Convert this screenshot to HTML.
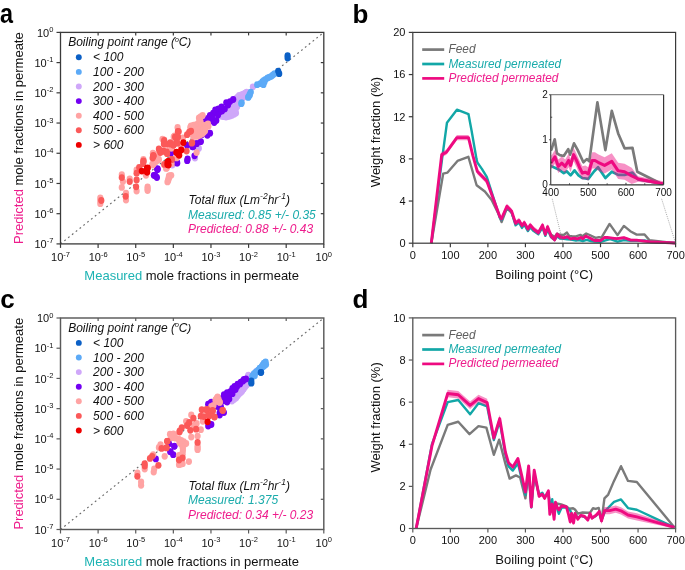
<!DOCTYPE html>
<html><head><meta charset="utf-8"><style>
html,body{margin:0;padding:0;background:#fff;}
svg{display:block;will-change:transform;}
text{font-family:"Liberation Sans", sans-serif;}
</style></head><body>
<svg width="685" height="570" viewBox="0 0 685 570" font-family='"Liberation Sans", sans-serif'>
<rect width="685" height="570" fill="#fff"/>
<text transform="translate(0.1 22.50) scale(0.9 1.03)" font-size="26" font-weight="bold" fill="#000">a</text>
<line x1="60.50" y1="243.90" x2="323.80" y2="32.40" stroke="#6a6a6a" stroke-width="1.15" stroke-dasharray="1.8 3.1" stroke-dashoffset="-4.9"/>
<ellipse cx="172.3" cy="165.1" rx="3.1" ry="3.4" fill="#cfa7f9"/>
<ellipse cx="198.7" cy="148.4" rx="3.1" ry="3.4" fill="#cfa7f9"/>
<ellipse cx="172.4" cy="164.2" rx="3.1" ry="3.4" fill="#cfa7f9"/>
<ellipse cx="195.0" cy="158.0" rx="3.1" ry="3.4" fill="#cfa7f9"/>
<ellipse cx="236.3" cy="98.4" rx="3.1" ry="3.4" fill="#cfa7f9"/>
<ellipse cx="240.5" cy="96.3" rx="3.1" ry="3.4" fill="#cfa7f9"/>
<ellipse cx="244.7" cy="94.2" rx="3.1" ry="3.4" fill="#cfa7f9"/>
<ellipse cx="247.9" cy="93.2" rx="3.1" ry="3.4" fill="#cfa7f9"/>
<ellipse cx="232.1" cy="105.8" rx="3.1" ry="3.4" fill="#cfa7f9"/>
<ellipse cx="234.2" cy="111.1" rx="3.1" ry="3.4" fill="#cfa7f9"/>
<ellipse cx="232.1" cy="115.3" rx="3.1" ry="3.4" fill="#cfa7f9"/>
<ellipse cx="224.7" cy="114.2" rx="3.1" ry="3.4" fill="#cfa7f9"/>
<ellipse cx="221.6" cy="116.3" rx="3.1" ry="3.4" fill="#cfa7f9"/>
<ellipse cx="228.9" cy="108.9" rx="3.1" ry="3.4" fill="#cfa7f9"/>
<ellipse cx="236.3" cy="104.7" rx="3.1" ry="3.4" fill="#cfa7f9"/>
<ellipse cx="198.4" cy="147.9" rx="3.1" ry="3.4" fill="#cfa7f9"/>
<ellipse cx="252.9" cy="86.8" rx="3.1" ry="3.4" fill="#cfa7f9"/>
<ellipse cx="246.6" cy="92.1" rx="3.1" ry="3.4" fill="#cfa7f9"/>
<ellipse cx="243.4" cy="94.2" rx="3.1" ry="3.4" fill="#cfa7f9"/>
<ellipse cx="239.2" cy="95.3" rx="3.1" ry="3.4" fill="#cfa7f9"/>
<ellipse cx="237.1" cy="100.5" rx="3.1" ry="3.4" fill="#cfa7f9"/>
<ellipse cx="237.1" cy="106.8" rx="3.1" ry="3.4" fill="#cfa7f9"/>
<ellipse cx="242.4" cy="97.4" rx="3.1" ry="3.4" fill="#cfa7f9"/>
<ellipse cx="171.9" cy="164.4" rx="3.1" ry="3.4" fill="#cfa7f9"/>
<ellipse cx="230.0" cy="110.0" rx="3.1" ry="3.4" fill="#cfa7f9"/>
<ellipse cx="228.0" cy="113.0" rx="3.1" ry="3.4" fill="#cfa7f9"/>
<ellipse cx="234.0" cy="108.0" rx="3.1" ry="3.4" fill="#cfa7f9"/>
<ellipse cx="238.0" cy="102.0" rx="3.1" ry="3.4" fill="#cfa7f9"/>
<ellipse cx="240.0" cy="100.0" rx="3.1" ry="3.4" fill="#cfa7f9"/>
<ellipse cx="226.0" cy="117.0" rx="3.1" ry="3.4" fill="#cfa7f9"/>
<ellipse cx="236.0" cy="113.0" rx="3.1" ry="3.4" fill="#cfa7f9"/>
<ellipse cx="230.0" cy="116.0" rx="3.1" ry="3.4" fill="#cfa7f9"/>
<ellipse cx="244.0" cy="97.0" rx="3.1" ry="3.4" fill="#cfa7f9"/>
<ellipse cx="233.0" cy="104.0" rx="3.1" ry="3.4" fill="#cfa7f9"/>
<ellipse cx="238.4" cy="97.3" rx="3.1" ry="3.4" fill="#cfa7f9"/>
<ellipse cx="237.8" cy="96.8" rx="3.1" ry="3.4" fill="#cfa7f9"/>
<ellipse cx="237.2" cy="100.2" rx="3.1" ry="3.4" fill="#cfa7f9"/>
<ellipse cx="238.2" cy="99.2" rx="3.1" ry="3.4" fill="#cfa7f9"/>
<ellipse cx="242.6" cy="95.2" rx="3.1" ry="3.4" fill="#cfa7f9"/>
<ellipse cx="241.9" cy="95.2" rx="3.1" ry="3.4" fill="#cfa7f9"/>
<ellipse cx="238.8" cy="98.4" rx="3.1" ry="3.4" fill="#cfa7f9"/>
<ellipse cx="240.2" cy="98.2" rx="3.1" ry="3.4" fill="#cfa7f9"/>
<ellipse cx="242.2" cy="96.7" rx="3.1" ry="3.4" fill="#cfa7f9"/>
<ellipse cx="241.9" cy="94.8" rx="3.1" ry="3.4" fill="#cfa7f9"/>
<ellipse cx="243.6" cy="95.8" rx="3.1" ry="3.4" fill="#cfa7f9"/>
<ellipse cx="245.7" cy="93.7" rx="3.1" ry="3.4" fill="#cfa7f9"/>
<ellipse cx="245.9" cy="95.1" rx="3.1" ry="3.4" fill="#cfa7f9"/>
<ellipse cx="233.1" cy="108.4" rx="3.1" ry="3.4" fill="#cfa7f9"/>
<ellipse cx="230.5" cy="107.3" rx="3.1" ry="3.4" fill="#cfa7f9"/>
<ellipse cx="234.2" cy="105.2" rx="3.1" ry="3.4" fill="#cfa7f9"/>
<ellipse cx="234.6" cy="106.3" rx="3.1" ry="3.4" fill="#cfa7f9"/>
<ellipse cx="231.1" cy="107.9" rx="3.1" ry="3.4" fill="#cfa7f9"/>
<ellipse cx="233.1" cy="113.2" rx="3.1" ry="3.4" fill="#cfa7f9"/>
<ellipse cx="231.6" cy="110.0" rx="3.1" ry="3.4" fill="#cfa7f9"/>
<ellipse cx="235.6" cy="108.9" rx="3.1" ry="3.4" fill="#cfa7f9"/>
<ellipse cx="232.1" cy="110.5" rx="3.1" ry="3.4" fill="#cfa7f9"/>
<ellipse cx="231.1" cy="112.7" rx="3.1" ry="3.4" fill="#cfa7f9"/>
<ellipse cx="230.1" cy="114.2" rx="3.1" ry="3.4" fill="#cfa7f9"/>
<ellipse cx="234.1" cy="114.2" rx="3.1" ry="3.4" fill="#cfa7f9"/>
<ellipse cx="223.1" cy="115.2" rx="3.1" ry="3.4" fill="#cfa7f9"/>
<ellipse cx="226.3" cy="113.6" rx="3.1" ry="3.4" fill="#cfa7f9"/>
<ellipse cx="227.3" cy="115.1" rx="3.1" ry="3.4" fill="#cfa7f9"/>
<ellipse cx="223.8" cy="116.7" rx="3.1" ry="3.4" fill="#cfa7f9"/>
<ellipse cx="228.4" cy="111.0" rx="3.1" ry="3.4" fill="#cfa7f9"/>
<ellipse cx="231.4" cy="108.5" rx="3.1" ry="3.4" fill="#cfa7f9"/>
<ellipse cx="236.7" cy="102.6" rx="3.1" ry="3.4" fill="#cfa7f9"/>
<ellipse cx="235.2" cy="106.3" rx="3.1" ry="3.4" fill="#cfa7f9"/>
<ellipse cx="245.0" cy="93.2" rx="3.1" ry="3.4" fill="#cfa7f9"/>
<ellipse cx="245.3" cy="94.5" rx="3.1" ry="3.4" fill="#cfa7f9"/>
<ellipse cx="241.3" cy="94.8" rx="3.1" ry="3.4" fill="#cfa7f9"/>
<ellipse cx="238.1" cy="97.9" rx="3.1" ry="3.4" fill="#cfa7f9"/>
<ellipse cx="240.8" cy="96.3" rx="3.1" ry="3.4" fill="#cfa7f9"/>
<ellipse cx="239.6" cy="97.7" rx="3.1" ry="3.4" fill="#cfa7f9"/>
<ellipse cx="241.6" cy="96.2" rx="3.1" ry="3.4" fill="#cfa7f9"/>
<ellipse cx="235.1" cy="102.2" rx="3.1" ry="3.4" fill="#cfa7f9"/>
<ellipse cx="237.6" cy="104.4" rx="3.1" ry="3.4" fill="#cfa7f9"/>
<ellipse cx="235.1" cy="105.4" rx="3.1" ry="3.4" fill="#cfa7f9"/>
<ellipse cx="241.2" cy="98.7" rx="3.1" ry="3.4" fill="#cfa7f9"/>
<ellipse cx="229.0" cy="111.5" rx="3.1" ry="3.4" fill="#cfa7f9"/>
<ellipse cx="232.0" cy="109.0" rx="3.1" ry="3.4" fill="#cfa7f9"/>
<ellipse cx="227.0" cy="115.0" rx="3.1" ry="3.4" fill="#cfa7f9"/>
<ellipse cx="229.0" cy="114.5" rx="3.1" ry="3.4" fill="#cfa7f9"/>
<ellipse cx="235.0" cy="110.5" rx="3.1" ry="3.4" fill="#cfa7f9"/>
<ellipse cx="233.5" cy="106.0" rx="3.1" ry="3.4" fill="#cfa7f9"/>
<ellipse cx="235.5" cy="103.0" rx="3.1" ry="3.4" fill="#cfa7f9"/>
<ellipse cx="242.0" cy="98.5" rx="3.1" ry="3.4" fill="#cfa7f9"/>
<ellipse cx="228.0" cy="116.5" rx="3.1" ry="3.4" fill="#cfa7f9"/>
<ellipse cx="241.6" cy="102.6" rx="3.1" ry="3.4" fill="#5caaf7"/>
<ellipse cx="248.4" cy="96.8" rx="3.1" ry="3.4" fill="#5caaf7"/>
<ellipse cx="274.5" cy="73.7" rx="3.1" ry="3.4" fill="#5caaf7"/>
<ellipse cx="271.3" cy="76.3" rx="3.1" ry="3.4" fill="#5caaf7"/>
<ellipse cx="267.6" cy="77.9" rx="3.1" ry="3.4" fill="#5caaf7"/>
<ellipse cx="265.5" cy="79.5" rx="3.1" ry="3.4" fill="#5caaf7"/>
<ellipse cx="262.4" cy="81.6" rx="3.1" ry="3.4" fill="#5caaf7"/>
<ellipse cx="260.3" cy="83.7" rx="3.1" ry="3.4" fill="#5caaf7"/>
<ellipse cx="263.4" cy="84.7" rx="3.1" ry="3.4" fill="#5caaf7"/>
<ellipse cx="257.1" cy="84.7" rx="3.1" ry="3.4" fill="#5caaf7"/>
<ellipse cx="250.8" cy="92.1" rx="3.1" ry="3.4" fill="#5caaf7"/>
<ellipse cx="249.7" cy="95.3" rx="3.1" ry="3.4" fill="#5caaf7"/>
<ellipse cx="248.2" cy="97.4" rx="3.1" ry="3.4" fill="#5caaf7"/>
<ellipse cx="241.3" cy="103.7" rx="3.1" ry="3.4" fill="#5caaf7"/>
<ellipse cx="249.6" cy="94.4" rx="3.1" ry="3.4" fill="#5caaf7"/>
<ellipse cx="272.9" cy="75.0" rx="3.1" ry="3.4" fill="#5caaf7"/>
<ellipse cx="269.5" cy="77.1" rx="3.1" ry="3.4" fill="#5caaf7"/>
<ellipse cx="263.9" cy="80.5" rx="3.1" ry="3.4" fill="#5caaf7"/>
<ellipse cx="264.4" cy="82.1" rx="3.1" ry="3.4" fill="#5caaf7"/>
<ellipse cx="287.6" cy="55.6" rx="3.1" ry="3.4" fill="#0b60c6"/>
<ellipse cx="287.6" cy="58.0" rx="3.1" ry="3.4" fill="#0b60c6"/>
<ellipse cx="278.2" cy="71.1" rx="3.1" ry="3.4" fill="#0b60c6"/>
<ellipse cx="279.2" cy="73.7" rx="3.1" ry="3.4" fill="#0b60c6"/>
<ellipse cx="153.9" cy="175.3" rx="3.1" ry="3.4" fill="#7300f2"/>
<ellipse cx="170.9" cy="153.2" rx="3.1" ry="3.4" fill="#7300f2"/>
<ellipse cx="177.2" cy="163.0" rx="3.1" ry="3.4" fill="#7300f2"/>
<ellipse cx="157.5" cy="168.6" rx="3.1" ry="3.4" fill="#7300f2"/>
<ellipse cx="201.8" cy="134.7" rx="3.1" ry="3.4" fill="#7300f2"/>
<ellipse cx="200.8" cy="141.6" rx="3.1" ry="3.4" fill="#7300f2"/>
<ellipse cx="196.6" cy="143.7" rx="3.1" ry="3.4" fill="#7300f2"/>
<ellipse cx="192.4" cy="146.8" rx="3.1" ry="3.4" fill="#7300f2"/>
<ellipse cx="187.6" cy="158.9" rx="3.1" ry="3.4" fill="#7300f2"/>
<ellipse cx="194.5" cy="155.8" rx="3.1" ry="3.4" fill="#7300f2"/>
<ellipse cx="176.6" cy="162.1" rx="3.1" ry="3.4" fill="#7300f2"/>
<ellipse cx="157.6" cy="169.5" rx="3.1" ry="3.4" fill="#7300f2"/>
<ellipse cx="155.5" cy="175.8" rx="3.1" ry="3.4" fill="#7300f2"/>
<ellipse cx="187.1" cy="145.3" rx="3.1" ry="3.4" fill="#7300f2"/>
<ellipse cx="204.0" cy="122.0" rx="3.1" ry="3.4" fill="#7300f2"/>
<ellipse cx="233.2" cy="99.5" rx="3.1" ry="3.4" fill="#7300f2"/>
<ellipse cx="230.0" cy="101.6" rx="3.1" ry="3.4" fill="#7300f2"/>
<ellipse cx="226.3" cy="102.6" rx="3.1" ry="3.4" fill="#7300f2"/>
<ellipse cx="221.6" cy="106.8" rx="3.1" ry="3.4" fill="#7300f2"/>
<ellipse cx="224.7" cy="108.9" rx="3.1" ry="3.4" fill="#7300f2"/>
<ellipse cx="218.4" cy="108.9" rx="3.1" ry="3.4" fill="#7300f2"/>
<ellipse cx="219.5" cy="112.1" rx="3.1" ry="3.4" fill="#7300f2"/>
<ellipse cx="215.3" cy="110.0" rx="3.1" ry="3.4" fill="#7300f2"/>
<ellipse cx="213.2" cy="113.2" rx="3.1" ry="3.4" fill="#7300f2"/>
<ellipse cx="210.0" cy="115.3" rx="3.1" ry="3.4" fill="#7300f2"/>
<ellipse cx="207.9" cy="118.4" rx="3.1" ry="3.4" fill="#7300f2"/>
<ellipse cx="211.1" cy="120.5" rx="3.1" ry="3.4" fill="#7300f2"/>
<ellipse cx="216.3" cy="120.5" rx="3.1" ry="3.4" fill="#7300f2"/>
<ellipse cx="214.2" cy="122.6" rx="3.1" ry="3.4" fill="#7300f2"/>
<ellipse cx="205.8" cy="121.6" rx="3.1" ry="3.4" fill="#7300f2"/>
<ellipse cx="210.0" cy="133.2" rx="3.1" ry="3.4" fill="#7300f2"/>
<ellipse cx="207.4" cy="135.3" rx="3.1" ry="3.4" fill="#7300f2"/>
<ellipse cx="201.6" cy="134.2" rx="3.1" ry="3.4" fill="#7300f2"/>
<ellipse cx="200.5" cy="141.6" rx="3.1" ry="3.4" fill="#7300f2"/>
<ellipse cx="196.3" cy="143.7" rx="3.1" ry="3.4" fill="#7300f2"/>
<ellipse cx="193.2" cy="146.8" rx="3.1" ry="3.4" fill="#7300f2"/>
<ellipse cx="157.3" cy="169.5" rx="3.1" ry="3.4" fill="#7300f2"/>
<ellipse cx="154.4" cy="175.3" rx="3.1" ry="3.4" fill="#7300f2"/>
<ellipse cx="156.9" cy="177.5" rx="3.1" ry="3.4" fill="#7300f2"/>
<ellipse cx="177.0" cy="162.9" rx="3.1" ry="3.4" fill="#7300f2"/>
<ellipse cx="187.2" cy="160.7" rx="3.1" ry="3.4" fill="#7300f2"/>
<ellipse cx="212.0" cy="117.0" rx="3.1" ry="3.4" fill="#7300f2"/>
<ellipse cx="218.0" cy="115.0" rx="3.1" ry="3.4" fill="#7300f2"/>
<ellipse cx="222.0" cy="111.0" rx="3.1" ry="3.4" fill="#7300f2"/>
<ellipse cx="228.0" cy="105.0" rx="3.1" ry="3.4" fill="#7300f2"/>
<ellipse cx="100.3" cy="203.7" rx="3.1" ry="3.4" fill="#ffa3a3"/>
<ellipse cx="100.3" cy="197.9" rx="3.1" ry="3.4" fill="#ffa3a3"/>
<ellipse cx="121.8" cy="174.7" rx="3.1" ry="3.4" fill="#ffa3a3"/>
<ellipse cx="122.9" cy="181.6" rx="3.1" ry="3.4" fill="#ffa3a3"/>
<ellipse cx="121.8" cy="187.4" rx="3.1" ry="3.4" fill="#ffa3a3"/>
<ellipse cx="129.7" cy="179.0" rx="3.1" ry="3.4" fill="#ffa3a3"/>
<ellipse cx="126.0" cy="193.2" rx="3.1" ry="3.4" fill="#ffa3a3"/>
<ellipse cx="126.0" cy="200.0" rx="3.1" ry="3.4" fill="#ffa3a3"/>
<ellipse cx="136.6" cy="191.0" rx="3.1" ry="3.4" fill="#ffa3a3"/>
<ellipse cx="136.6" cy="170.0" rx="3.1" ry="3.4" fill="#ffa3a3"/>
<ellipse cx="147.6" cy="186.8" rx="3.1" ry="3.4" fill="#ffa3a3"/>
<ellipse cx="147.6" cy="190.5" rx="3.1" ry="3.4" fill="#ffa3a3"/>
<ellipse cx="146.0" cy="175.3" rx="3.1" ry="3.4" fill="#ffa3a3"/>
<ellipse cx="143.4" cy="159.5" rx="3.1" ry="3.4" fill="#ffa3a3"/>
<ellipse cx="153.4" cy="163.7" rx="3.1" ry="3.4" fill="#ffa3a3"/>
<ellipse cx="152.9" cy="153.2" rx="3.1" ry="3.4" fill="#ffa3a3"/>
<ellipse cx="162.5" cy="139.1" rx="3.1" ry="3.4" fill="#ffa3a3"/>
<ellipse cx="173.7" cy="137.0" rx="3.1" ry="3.4" fill="#ffa3a3"/>
<ellipse cx="170.2" cy="148.2" rx="3.1" ry="3.4" fill="#ffa3a3"/>
<ellipse cx="157.5" cy="156.7" rx="3.1" ry="3.4" fill="#ffa3a3"/>
<ellipse cx="154.0" cy="162.3" rx="3.1" ry="3.4" fill="#ffa3a3"/>
<ellipse cx="158.9" cy="159.5" rx="3.1" ry="3.4" fill="#ffa3a3"/>
<ellipse cx="152.6" cy="165.1" rx="3.1" ry="3.4" fill="#ffa3a3"/>
<ellipse cx="171.6" cy="163.7" rx="3.1" ry="3.4" fill="#ffa3a3"/>
<ellipse cx="177.6" cy="127.4" rx="3.1" ry="3.4" fill="#ffa3a3"/>
<ellipse cx="174.5" cy="135.8" rx="3.1" ry="3.4" fill="#ffa3a3"/>
<ellipse cx="190.3" cy="127.4" rx="3.1" ry="3.4" fill="#ffa3a3"/>
<ellipse cx="194.5" cy="130.5" rx="3.1" ry="3.4" fill="#ffa3a3"/>
<ellipse cx="196.6" cy="126.3" rx="3.1" ry="3.4" fill="#ffa3a3"/>
<ellipse cx="199.7" cy="124.2" rx="3.1" ry="3.4" fill="#ffa3a3"/>
<ellipse cx="164.0" cy="140.0" rx="3.1" ry="3.4" fill="#ffa3a3"/>
<ellipse cx="155.5" cy="154.7" rx="3.1" ry="3.4" fill="#ffa3a3"/>
<ellipse cx="157.6" cy="160.0" rx="3.1" ry="3.4" fill="#ffa3a3"/>
<ellipse cx="152.4" cy="164.2" rx="3.1" ry="3.4" fill="#ffa3a3"/>
<ellipse cx="166.1" cy="168.4" rx="3.1" ry="3.4" fill="#ffa3a3"/>
<ellipse cx="169.7" cy="175.8" rx="3.1" ry="3.4" fill="#ffa3a3"/>
<ellipse cx="168.2" cy="162.1" rx="3.1" ry="3.4" fill="#ffa3a3"/>
<ellipse cx="176.6" cy="157.9" rx="3.1" ry="3.4" fill="#ffa3a3"/>
<ellipse cx="180.8" cy="146.3" rx="3.1" ry="3.4" fill="#ffa3a3"/>
<ellipse cx="196.6" cy="152.6" rx="3.1" ry="3.4" fill="#ffa3a3"/>
<ellipse cx="195.5" cy="134.7" rx="3.1" ry="3.4" fill="#ffa3a3"/>
<ellipse cx="182.9" cy="137.9" rx="3.1" ry="3.4" fill="#ffa3a3"/>
<ellipse cx="172.0" cy="148.0" rx="3.1" ry="3.4" fill="#ffa3a3"/>
<ellipse cx="202.6" cy="115.3" rx="3.1" ry="3.4" fill="#ffa3a3"/>
<ellipse cx="200.5" cy="121.6" rx="3.1" ry="3.4" fill="#ffa3a3"/>
<ellipse cx="196.3" cy="124.7" rx="3.1" ry="3.4" fill="#ffa3a3"/>
<ellipse cx="203.7" cy="130.0" rx="3.1" ry="3.4" fill="#ffa3a3"/>
<ellipse cx="208.4" cy="126.3" rx="3.1" ry="3.4" fill="#ffa3a3"/>
<ellipse cx="198.4" cy="131.1" rx="3.1" ry="3.4" fill="#ffa3a3"/>
<ellipse cx="194.2" cy="133.2" rx="3.1" ry="3.4" fill="#ffa3a3"/>
<ellipse cx="193.2" cy="136.3" rx="3.1" ry="3.4" fill="#ffa3a3"/>
<ellipse cx="197.4" cy="136.3" rx="3.1" ry="3.4" fill="#ffa3a3"/>
<ellipse cx="191.0" cy="125.8" rx="3.1" ry="3.4" fill="#ffa3a3"/>
<ellipse cx="169.0" cy="176.0" rx="3.1" ry="3.4" fill="#ffa3a3"/>
<ellipse cx="168.2" cy="180.4" rx="3.1" ry="3.4" fill="#ffa3a3"/>
<ellipse cx="171.2" cy="175.3" rx="3.1" ry="3.4" fill="#ffa3a3"/>
<ellipse cx="167.5" cy="181.9" rx="3.1" ry="3.4" fill="#ffa3a3"/>
<ellipse cx="166.8" cy="168.0" rx="3.1" ry="3.4" fill="#ffa3a3"/>
<ellipse cx="152.9" cy="164.4" rx="3.1" ry="3.4" fill="#ffa3a3"/>
<ellipse cx="205.0" cy="126.0" rx="3.1" ry="3.4" fill="#ffa3a3"/>
<ellipse cx="203.0" cy="130.0" rx="3.1" ry="3.4" fill="#ffa3a3"/>
<ellipse cx="208.0" cy="124.0" rx="3.1" ry="3.4" fill="#ffa3a3"/>
<ellipse cx="199.0" cy="118.0" rx="3.1" ry="3.4" fill="#ffa3a3"/>
<ellipse cx="195.0" cy="128.0" rx="3.1" ry="3.4" fill="#ffa3a3"/>
<ellipse cx="202.0" cy="134.0" rx="3.1" ry="3.4" fill="#ffa3a3"/>
<ellipse cx="205.0" cy="131.0" rx="3.1" ry="3.4" fill="#ffa3a3"/>
<ellipse cx="100.3" cy="200.8" rx="3.1" ry="3.4" fill="#ffa3a3"/>
<ellipse cx="147.6" cy="188.7" rx="3.1" ry="3.4" fill="#ffa3a3"/>
<ellipse cx="155.5" cy="161.8" rx="3.1" ry="3.4" fill="#ffa3a3"/>
<ellipse cx="155.2" cy="154.9" rx="3.1" ry="3.4" fill="#ffa3a3"/>
<ellipse cx="156.4" cy="160.9" rx="3.1" ry="3.4" fill="#ffa3a3"/>
<ellipse cx="155.8" cy="161.2" rx="3.1" ry="3.4" fill="#ffa3a3"/>
<ellipse cx="169.9" cy="162.9" rx="3.1" ry="3.4" fill="#ffa3a3"/>
<ellipse cx="192.4" cy="128.9" rx="3.1" ry="3.4" fill="#ffa3a3"/>
<ellipse cx="192.7" cy="127.7" rx="3.1" ry="3.4" fill="#ffa3a3"/>
<ellipse cx="195.6" cy="128.4" rx="3.1" ry="3.4" fill="#ffa3a3"/>
<ellipse cx="195.0" cy="132.6" rx="3.1" ry="3.4" fill="#ffa3a3"/>
<ellipse cx="196.4" cy="130.8" rx="3.1" ry="3.4" fill="#ffa3a3"/>
<ellipse cx="198.1" cy="125.2" rx="3.1" ry="3.4" fill="#ffa3a3"/>
<ellipse cx="197.5" cy="128.7" rx="3.1" ry="3.4" fill="#ffa3a3"/>
<ellipse cx="193.8" cy="126.0" rx="3.1" ry="3.4" fill="#ffa3a3"/>
<ellipse cx="202.3" cy="125.1" rx="3.1" ry="3.4" fill="#ffa3a3"/>
<ellipse cx="156.6" cy="157.3" rx="3.1" ry="3.4" fill="#ffa3a3"/>
<ellipse cx="168.9" cy="178.1" rx="3.1" ry="3.4" fill="#ffa3a3"/>
<ellipse cx="196.9" cy="132.9" rx="3.1" ry="3.4" fill="#ffa3a3"/>
<ellipse cx="200.8" cy="116.7" rx="3.1" ry="3.4" fill="#ffa3a3"/>
<ellipse cx="198.4" cy="123.2" rx="3.1" ry="3.4" fill="#ffa3a3"/>
<ellipse cx="199.8" cy="119.8" rx="3.1" ry="3.4" fill="#ffa3a3"/>
<ellipse cx="193.7" cy="125.2" rx="3.1" ry="3.4" fill="#ffa3a3"/>
<ellipse cx="195.7" cy="126.3" rx="3.1" ry="3.4" fill="#ffa3a3"/>
<ellipse cx="201.1" cy="130.6" rx="3.1" ry="3.4" fill="#ffa3a3"/>
<ellipse cx="204.3" cy="128.0" rx="3.1" ry="3.4" fill="#ffa3a3"/>
<ellipse cx="202.8" cy="132.0" rx="3.1" ry="3.4" fill="#ffa3a3"/>
<ellipse cx="196.3" cy="132.1" rx="3.1" ry="3.4" fill="#ffa3a3"/>
<ellipse cx="197.9" cy="133.7" rx="3.1" ry="3.4" fill="#ffa3a3"/>
<ellipse cx="200.7" cy="130.6" rx="3.1" ry="3.4" fill="#ffa3a3"/>
<ellipse cx="196.7" cy="129.6" rx="3.1" ry="3.4" fill="#ffa3a3"/>
<ellipse cx="200.2" cy="132.6" rx="3.1" ry="3.4" fill="#ffa3a3"/>
<ellipse cx="195.8" cy="134.8" rx="3.1" ry="3.4" fill="#ffa3a3"/>
<ellipse cx="194.6" cy="130.6" rx="3.1" ry="3.4" fill="#ffa3a3"/>
<ellipse cx="195.3" cy="136.3" rx="3.1" ry="3.4" fill="#ffa3a3"/>
<ellipse cx="199.7" cy="135.2" rx="3.1" ry="3.4" fill="#ffa3a3"/>
<ellipse cx="193.0" cy="126.9" rx="3.1" ry="3.4" fill="#ffa3a3"/>
<ellipse cx="168.6" cy="178.2" rx="3.1" ry="3.4" fill="#ffa3a3"/>
<ellipse cx="204.0" cy="128.0" rx="3.1" ry="3.4" fill="#ffa3a3"/>
<ellipse cx="206.5" cy="125.0" rx="3.1" ry="3.4" fill="#ffa3a3"/>
<ellipse cx="205.0" cy="128.5" rx="3.1" ry="3.4" fill="#ffa3a3"/>
<ellipse cx="202.5" cy="132.0" rx="3.1" ry="3.4" fill="#ffa3a3"/>
<ellipse cx="203.5" cy="132.5" rx="3.1" ry="3.4" fill="#ffa3a3"/>
<ellipse cx="101.3" cy="200.5" rx="3.1" ry="3.4" fill="#fb5959"/>
<ellipse cx="121.8" cy="177.6" rx="3.1" ry="3.4" fill="#fb5959"/>
<ellipse cx="129.7" cy="181.6" rx="3.1" ry="3.4" fill="#fb5959"/>
<ellipse cx="125.7" cy="196.3" rx="3.1" ry="3.4" fill="#fb5959"/>
<ellipse cx="136.6" cy="173.2" rx="3.1" ry="3.4" fill="#fb5959"/>
<ellipse cx="136.6" cy="180.0" rx="3.1" ry="3.4" fill="#fb5959"/>
<ellipse cx="136.1" cy="186.8" rx="3.1" ry="3.4" fill="#fb5959"/>
<ellipse cx="143.4" cy="161.6" rx="3.1" ry="3.4" fill="#fb5959"/>
<ellipse cx="139.2" cy="167.4" rx="3.1" ry="3.4" fill="#fb5959"/>
<ellipse cx="153.4" cy="156.3" rx="3.1" ry="3.4" fill="#fb5959"/>
<ellipse cx="164.2" cy="140.5" rx="3.1" ry="3.4" fill="#fb5959"/>
<ellipse cx="163.9" cy="144.0" rx="3.1" ry="3.4" fill="#fb5959"/>
<ellipse cx="158.9" cy="148.9" rx="3.1" ry="3.4" fill="#fb5959"/>
<ellipse cx="163.2" cy="151.0" rx="3.1" ry="3.4" fill="#fb5959"/>
<ellipse cx="166.7" cy="151.8" rx="3.1" ry="3.4" fill="#fb5959"/>
<ellipse cx="170.2" cy="144.0" rx="3.1" ry="3.4" fill="#fb5959"/>
<ellipse cx="173.7" cy="144.7" rx="3.1" ry="3.4" fill="#fb5959"/>
<ellipse cx="176.5" cy="141.2" rx="3.1" ry="3.4" fill="#fb5959"/>
<ellipse cx="177.9" cy="137.0" rx="3.1" ry="3.4" fill="#fb5959"/>
<ellipse cx="177.9" cy="131.4" rx="3.1" ry="3.4" fill="#fb5959"/>
<ellipse cx="175.1" cy="137.0" rx="3.1" ry="3.4" fill="#fb5959"/>
<ellipse cx="153.3" cy="155.3" rx="3.1" ry="3.4" fill="#fb5959"/>
<ellipse cx="152.6" cy="158.1" rx="3.1" ry="3.4" fill="#fb5959"/>
<ellipse cx="143.5" cy="160.9" rx="3.1" ry="3.4" fill="#fb5959"/>
<ellipse cx="143.2" cy="163.7" rx="3.1" ry="3.4" fill="#fb5959"/>
<ellipse cx="171.6" cy="159.5" rx="3.1" ry="3.4" fill="#fb5959"/>
<ellipse cx="164.2" cy="164.4" rx="3.1" ry="3.4" fill="#fb5959"/>
<ellipse cx="160.4" cy="152.5" rx="3.1" ry="3.4" fill="#fb5959"/>
<ellipse cx="178.7" cy="131.6" rx="3.1" ry="3.4" fill="#fb5959"/>
<ellipse cx="177.6" cy="136.8" rx="3.1" ry="3.4" fill="#fb5959"/>
<ellipse cx="187.1" cy="134.7" rx="3.1" ry="3.4" fill="#fb5959"/>
<ellipse cx="189.2" cy="132.1" rx="3.1" ry="3.4" fill="#fb5959"/>
<ellipse cx="164.0" cy="142.1" rx="3.1" ry="3.4" fill="#fb5959"/>
<ellipse cx="166.1" cy="144.2" rx="3.1" ry="3.4" fill="#fb5959"/>
<ellipse cx="170.3" cy="142.6" rx="3.1" ry="3.4" fill="#fb5959"/>
<ellipse cx="173.4" cy="145.3" rx="3.1" ry="3.4" fill="#fb5959"/>
<ellipse cx="177.6" cy="143.2" rx="3.1" ry="3.4" fill="#fb5959"/>
<ellipse cx="159.7" cy="150.5" rx="3.1" ry="3.4" fill="#fb5959"/>
<ellipse cx="165.0" cy="151.6" rx="3.1" ry="3.4" fill="#fb5959"/>
<ellipse cx="167.1" cy="153.7" rx="3.1" ry="3.4" fill="#fb5959"/>
<ellipse cx="153.4" cy="155.8" rx="3.1" ry="3.4" fill="#fb5959"/>
<ellipse cx="171.8" cy="159.5" rx="3.1" ry="3.4" fill="#fb5959"/>
<ellipse cx="186.6" cy="151.1" rx="3.1" ry="3.4" fill="#fb5959"/>
<ellipse cx="191.8" cy="143.2" rx="3.1" ry="3.4" fill="#fb5959"/>
<ellipse cx="191.0" cy="131.1" rx="3.1" ry="3.4" fill="#fb5959"/>
<ellipse cx="192.1" cy="142.6" rx="3.1" ry="3.4" fill="#fb5959"/>
<ellipse cx="141.8" cy="171.1" rx="3.1" ry="3.4" fill="#ee0000"/>
<ellipse cx="147.1" cy="168.4" rx="3.1" ry="3.4" fill="#ee0000"/>
<ellipse cx="147.1" cy="172.1" rx="3.1" ry="3.4" fill="#ee0000"/>
<ellipse cx="168.1" cy="161.6" rx="3.1" ry="3.4" fill="#ee0000"/>
<ellipse cx="168.4" cy="165.1" rx="3.1" ry="3.4" fill="#ee0000"/>
<ellipse cx="176.5" cy="152.5" rx="3.1" ry="3.4" fill="#ee0000"/>
<ellipse cx="178.6" cy="154.6" rx="3.1" ry="3.4" fill="#ee0000"/>
<ellipse cx="147.7" cy="167.9" rx="3.1" ry="3.4" fill="#ee0000"/>
<ellipse cx="183.4" cy="142.6" rx="3.1" ry="3.4" fill="#ee0000"/>
<ellipse cx="181.3" cy="150.0" rx="3.1" ry="3.4" fill="#ee0000"/>
<ellipse cx="176.6" cy="152.1" rx="3.1" ry="3.4" fill="#ee0000"/>
<ellipse cx="179.2" cy="155.3" rx="3.1" ry="3.4" fill="#ee0000"/>
<ellipse cx="167.6" cy="162.1" rx="3.1" ry="3.4" fill="#ee0000"/>
<ellipse cx="168.2" cy="164.7" rx="3.1" ry="3.4" fill="#ee0000"/>
<ellipse cx="147.1" cy="168.4" rx="3.1" ry="3.4" fill="#ee0000"/>
<ellipse cx="147.1" cy="172.1" rx="3.1" ry="3.4" fill="#ee0000"/>
<ellipse cx="167.5" cy="164.4" rx="3.1" ry="3.4" fill="#ee0000"/>
<ellipse cx="168.2" cy="161.5" rx="3.1" ry="3.4" fill="#ee0000"/>
<rect x="60.5" y="32.4" width="263.30" height="211.50" fill="none" stroke="#3a3a3a" stroke-width="1.3"/>
<line x1="60.50" y1="243.90" x2="60.50" y2="247.90" stroke="#3a3a3a" stroke-width="1.2" />
<line x1="56.50" y1="32.40" x2="60.50" y2="32.40" stroke="#3a3a3a" stroke-width="1.2" />
<line x1="98.11" y1="243.90" x2="98.11" y2="247.90" stroke="#3a3a3a" stroke-width="1.2" />
<line x1="98.11" y1="32.40" x2="98.11" y2="35.40" stroke="#3a3a3a" stroke-width="1.2" />
<line x1="56.50" y1="62.61" x2="60.50" y2="62.61" stroke="#3a3a3a" stroke-width="1.2" />
<line x1="320.80" y1="62.61" x2="323.80" y2="62.61" stroke="#3a3a3a" stroke-width="1.2" />
<line x1="135.73" y1="243.90" x2="135.73" y2="247.90" stroke="#3a3a3a" stroke-width="1.2" />
<line x1="135.73" y1="32.40" x2="135.73" y2="35.40" stroke="#3a3a3a" stroke-width="1.2" />
<line x1="56.50" y1="92.83" x2="60.50" y2="92.83" stroke="#3a3a3a" stroke-width="1.2" />
<line x1="320.80" y1="92.83" x2="323.80" y2="92.83" stroke="#3a3a3a" stroke-width="1.2" />
<line x1="173.34" y1="243.90" x2="173.34" y2="247.90" stroke="#3a3a3a" stroke-width="1.2" />
<line x1="173.34" y1="32.40" x2="173.34" y2="35.40" stroke="#3a3a3a" stroke-width="1.2" />
<line x1="56.50" y1="123.04" x2="60.50" y2="123.04" stroke="#3a3a3a" stroke-width="1.2" />
<line x1="320.80" y1="123.04" x2="323.80" y2="123.04" stroke="#3a3a3a" stroke-width="1.2" />
<line x1="210.96" y1="243.90" x2="210.96" y2="247.90" stroke="#3a3a3a" stroke-width="1.2" />
<line x1="210.96" y1="32.40" x2="210.96" y2="35.40" stroke="#3a3a3a" stroke-width="1.2" />
<line x1="56.50" y1="153.26" x2="60.50" y2="153.26" stroke="#3a3a3a" stroke-width="1.2" />
<line x1="320.80" y1="153.26" x2="323.80" y2="153.26" stroke="#3a3a3a" stroke-width="1.2" />
<line x1="248.57" y1="243.90" x2="248.57" y2="247.90" stroke="#3a3a3a" stroke-width="1.2" />
<line x1="248.57" y1="32.40" x2="248.57" y2="35.40" stroke="#3a3a3a" stroke-width="1.2" />
<line x1="56.50" y1="183.47" x2="60.50" y2="183.47" stroke="#3a3a3a" stroke-width="1.2" />
<line x1="320.80" y1="183.47" x2="323.80" y2="183.47" stroke="#3a3a3a" stroke-width="1.2" />
<line x1="286.19" y1="243.90" x2="286.19" y2="247.90" stroke="#3a3a3a" stroke-width="1.2" />
<line x1="286.19" y1="32.40" x2="286.19" y2="35.40" stroke="#3a3a3a" stroke-width="1.2" />
<line x1="56.50" y1="213.69" x2="60.50" y2="213.69" stroke="#3a3a3a" stroke-width="1.2" />
<line x1="320.80" y1="213.69" x2="323.80" y2="213.69" stroke="#3a3a3a" stroke-width="1.2" />
<line x1="323.80" y1="243.90" x2="323.80" y2="247.90" stroke="#3a3a3a" stroke-width="1.2" />
<line x1="56.50" y1="243.90" x2="60.50" y2="243.90" stroke="#3a3a3a" stroke-width="1.2" />
<text x="60.50" y="261.40" font-size="11" text-anchor="middle" fill="#111" >10<tspan dy="-4.7" font-size="7.5">-7</tspan></text>
<text x="98.11" y="261.40" font-size="11" text-anchor="middle" fill="#111" >10<tspan dy="-4.7" font-size="7.5">-6</tspan></text>
<text x="135.73" y="261.40" font-size="11" text-anchor="middle" fill="#111" >10<tspan dy="-4.7" font-size="7.5">-5</tspan></text>
<text x="173.34" y="261.40" font-size="11" text-anchor="middle" fill="#111" >10<tspan dy="-4.7" font-size="7.5">-4</tspan></text>
<text x="210.96" y="261.40" font-size="11" text-anchor="middle" fill="#111" >10<tspan dy="-4.7" font-size="7.5">-3</tspan></text>
<text x="248.57" y="261.40" font-size="11" text-anchor="middle" fill="#111" >10<tspan dy="-4.7" font-size="7.5">-2</tspan></text>
<text x="286.19" y="261.40" font-size="11" text-anchor="middle" fill="#111" >10<tspan dy="-4.7" font-size="7.5">-1</tspan></text>
<text x="323.80" y="261.40" font-size="11" text-anchor="middle" fill="#111" >10<tspan dy="-4.7" font-size="7.5">0</tspan></text>
<text x="53.40" y="36.60" font-size="11" text-anchor="end" fill="#111" >10<tspan dy="-4.7" font-size="7.5">0</tspan></text>
<text x="53.40" y="66.81" font-size="11" text-anchor="end" fill="#111" >10<tspan dy="-4.7" font-size="7.5">-1</tspan></text>
<text x="53.40" y="97.03" font-size="11" text-anchor="end" fill="#111" >10<tspan dy="-4.7" font-size="7.5">-2</tspan></text>
<text x="53.40" y="127.24" font-size="11" text-anchor="end" fill="#111" >10<tspan dy="-4.7" font-size="7.5">-3</tspan></text>
<text x="53.40" y="157.46" font-size="11" text-anchor="end" fill="#111" >10<tspan dy="-4.7" font-size="7.5">-4</tspan></text>
<text x="53.40" y="187.67" font-size="11" text-anchor="end" fill="#111" >10<tspan dy="-4.7" font-size="7.5">-5</tspan></text>
<text x="53.40" y="217.89" font-size="11" text-anchor="end" fill="#111" >10<tspan dy="-4.7" font-size="7.5">-6</tspan></text>
<text x="53.40" y="248.10" font-size="11" text-anchor="end" fill="#111" >10<tspan dy="-4.7" font-size="7.5">-7</tspan></text>
<text x="191.65" y="279.90" font-size="13" text-anchor="middle" fill="#111"><tspan fill="#1db3b3">Measured</tspan> mole fractions in permeate</text>
<text transform="translate(22.8 138.15) rotate(-90)" x="0" y="0" font-size="13" text-anchor="middle" fill="#111"><tspan fill="#ee1c8c">Predicted</tspan> mole fractions in permeate</text>
<text x="68.20" y="46.20" font-size="12" text-anchor="start" fill="#111" font-style="italic" >Boiling point range (<tspan dy="-4.6" font-size="7">o</tspan><tspan dy="4.6">C</tspan><tspan font-size="11">)</tspan></text>
<circle cx="78.8" cy="57.30" r="2.95" fill="#0b60c6"/>
<text x="93.10" y="61.30" font-size="12" text-anchor="start" fill="#111" font-style="italic" >&lt; 100</text>
<circle cx="78.8" cy="71.90" r="2.95" fill="#5caaf7"/>
<text x="93.10" y="75.90" font-size="12" text-anchor="start" fill="#111" font-style="italic" >100 - 200</text>
<circle cx="78.8" cy="86.50" r="2.95" fill="#cfa7f9"/>
<text x="93.10" y="90.50" font-size="12" text-anchor="start" fill="#111" font-style="italic" >200 - 300</text>
<circle cx="78.8" cy="101.10" r="2.95" fill="#7300f2"/>
<text x="93.10" y="105.10" font-size="12" text-anchor="start" fill="#111" font-style="italic" >300 - 400</text>
<circle cx="78.8" cy="115.70" r="2.95" fill="#ffa3a3"/>
<text x="93.10" y="119.70" font-size="12" text-anchor="start" fill="#111" font-style="italic" >400 - 500</text>
<circle cx="78.8" cy="130.30" r="2.95" fill="#fb5959"/>
<text x="93.10" y="134.30" font-size="12" text-anchor="start" fill="#111" font-style="italic" >500 - 600</text>
<circle cx="78.8" cy="144.90" r="2.95" fill="#ee0000"/>
<text x="93.10" y="148.90" font-size="12" text-anchor="start" fill="#111" font-style="italic" >&gt; 600</text>
<text x="188.50" y="204.20" font-size="12" text-anchor="start" fill="#111" font-style="italic" >Total flux (Lm<tspan dy="-5" font-size="8.5">-2</tspan><tspan dy="5">hr</tspan><tspan dy="-5" font-size="8.5">-1</tspan><tspan dy="5">)</tspan></text>
<text x="188.00" y="218.80" font-size="12" text-anchor="start" fill="#1aabab" font-style="italic" >Measured: 0.85 +/- 0.35</text>
<text x="188.00" y="233.30" font-size="12" text-anchor="start" fill="#ee1c8c" font-style="italic" >Predicted: 0.88 +/- 0.43</text>
<text x="0.30" y="308.10" font-size="26" text-anchor="start" fill="#000" font-weight="bold" >c</text>
<line x1="60.50" y1="529.50" x2="323.80" y2="318.00" stroke="#6a6a6a" stroke-width="1.15" stroke-dasharray="1.8 3.1" stroke-dashoffset="-4.9"/>
<ellipse cx="248.2" cy="375.8" rx="3.1" ry="3.4" fill="#cfa7f9"/>
<ellipse cx="249.2" cy="380.0" rx="3.1" ry="3.4" fill="#cfa7f9"/>
<ellipse cx="242.9" cy="387.4" rx="3.1" ry="3.4" fill="#cfa7f9"/>
<ellipse cx="241.8" cy="391.6" rx="3.1" ry="3.4" fill="#cfa7f9"/>
<ellipse cx="236.6" cy="394.7" rx="3.1" ry="3.4" fill="#cfa7f9"/>
<ellipse cx="234.5" cy="396.8" rx="3.1" ry="3.4" fill="#cfa7f9"/>
<ellipse cx="256.6" cy="371.6" rx="3.1" ry="3.4" fill="#cfa7f9"/>
<ellipse cx="256.1" cy="371.6" rx="3.1" ry="3.4" fill="#cfa7f9"/>
<ellipse cx="248.4" cy="375.1" rx="3.1" ry="3.4" fill="#cfa7f9"/>
<ellipse cx="247.7" cy="377.9" rx="3.1" ry="3.4" fill="#cfa7f9"/>
<ellipse cx="239.0" cy="394.0" rx="3.1" ry="3.4" fill="#cfa7f9"/>
<ellipse cx="242.0" cy="390.5" rx="3.1" ry="3.4" fill="#cfa7f9"/>
<ellipse cx="245.0" cy="387.0" rx="3.1" ry="3.4" fill="#cfa7f9"/>
<ellipse cx="248.0" cy="383.5" rx="3.1" ry="3.4" fill="#cfa7f9"/>
<ellipse cx="250.5" cy="379.5" rx="3.1" ry="3.4" fill="#cfa7f9"/>
<ellipse cx="236.0" cy="398.0" rx="3.1" ry="3.4" fill="#cfa7f9"/>
<ellipse cx="232.0" cy="401.0" rx="3.1" ry="3.4" fill="#cfa7f9"/>
<ellipse cx="248.7" cy="377.9" rx="3.1" ry="3.4" fill="#cfa7f9"/>
<ellipse cx="249.3" cy="377.6" rx="3.1" ry="3.4" fill="#cfa7f9"/>
<ellipse cx="248.8" cy="377.6" rx="3.1" ry="3.4" fill="#cfa7f9"/>
<ellipse cx="248.6" cy="381.8" rx="3.1" ry="3.4" fill="#cfa7f9"/>
<ellipse cx="242.4" cy="389.5" rx="3.1" ry="3.4" fill="#cfa7f9"/>
<ellipse cx="240.4" cy="392.8" rx="3.1" ry="3.4" fill="#cfa7f9"/>
<ellipse cx="243.4" cy="389.3" rx="3.1" ry="3.4" fill="#cfa7f9"/>
<ellipse cx="236.8" cy="395.4" rx="3.1" ry="3.4" fill="#cfa7f9"/>
<ellipse cx="233.2" cy="398.9" rx="3.1" ry="3.4" fill="#cfa7f9"/>
<ellipse cx="249.4" cy="377.3" rx="3.1" ry="3.4" fill="#cfa7f9"/>
<ellipse cx="247.8" cy="380.7" rx="3.1" ry="3.4" fill="#cfa7f9"/>
<ellipse cx="240.5" cy="392.2" rx="3.1" ry="3.4" fill="#cfa7f9"/>
<ellipse cx="237.5" cy="396.0" rx="3.1" ry="3.4" fill="#cfa7f9"/>
<ellipse cx="243.5" cy="388.8" rx="3.1" ry="3.4" fill="#cfa7f9"/>
<ellipse cx="246.5" cy="385.2" rx="3.1" ry="3.4" fill="#cfa7f9"/>
<ellipse cx="249.2" cy="381.5" rx="3.1" ry="3.4" fill="#cfa7f9"/>
<ellipse cx="234.0" cy="399.5" rx="3.1" ry="3.4" fill="#cfa7f9"/>
<ellipse cx="261.8" cy="366.3" rx="3.1" ry="3.4" fill="#5caaf7"/>
<ellipse cx="259.7" cy="368.4" rx="3.1" ry="3.4" fill="#5caaf7"/>
<ellipse cx="254.5" cy="373.7" rx="3.1" ry="3.4" fill="#5caaf7"/>
<ellipse cx="252.4" cy="375.8" rx="3.1" ry="3.4" fill="#5caaf7"/>
<ellipse cx="263.9" cy="363.2" rx="3.1" ry="3.4" fill="#5caaf7"/>
<ellipse cx="265.6" cy="361.8" rx="3.1" ry="3.4" fill="#5caaf7"/>
<ellipse cx="266.0" cy="364.6" rx="3.1" ry="3.4" fill="#5caaf7"/>
<ellipse cx="263.9" cy="366.0" rx="3.1" ry="3.4" fill="#5caaf7"/>
<ellipse cx="261.8" cy="367.4" rx="3.1" ry="3.4" fill="#5caaf7"/>
<ellipse cx="259.6" cy="368.8" rx="3.1" ry="3.4" fill="#5caaf7"/>
<ellipse cx="258.2" cy="370.2" rx="3.1" ry="3.4" fill="#5caaf7"/>
<ellipse cx="254.0" cy="373.7" rx="3.1" ry="3.4" fill="#5caaf7"/>
<ellipse cx="252.6" cy="376.5" rx="3.1" ry="3.4" fill="#5caaf7"/>
<ellipse cx="254.7" cy="375.8" rx="3.1" ry="3.4" fill="#5caaf7"/>
<ellipse cx="262.9" cy="364.8" rx="3.1" ry="3.4" fill="#5caaf7"/>
<ellipse cx="263.9" cy="365.5" rx="3.1" ry="3.4" fill="#5caaf7"/>
<ellipse cx="260.0" cy="368.2" rx="3.1" ry="3.4" fill="#5caaf7"/>
<ellipse cx="261.8" cy="367.2" rx="3.1" ry="3.4" fill="#5caaf7"/>
<ellipse cx="256.4" cy="371.9" rx="3.1" ry="3.4" fill="#5caaf7"/>
<ellipse cx="262.9" cy="365.3" rx="3.1" ry="3.4" fill="#5caaf7"/>
<ellipse cx="264.8" cy="363.9" rx="3.1" ry="3.4" fill="#5caaf7"/>
<ellipse cx="263.9" cy="366.0" rx="3.1" ry="3.4" fill="#5caaf7"/>
<ellipse cx="261.8" cy="367.4" rx="3.1" ry="3.4" fill="#5caaf7"/>
<ellipse cx="260.0" cy="368.8" rx="3.1" ry="3.4" fill="#5caaf7"/>
<ellipse cx="256.1" cy="371.9" rx="3.1" ry="3.4" fill="#5caaf7"/>
<ellipse cx="251.3" cy="383.2" rx="3.1" ry="3.4" fill="#0b60c6"/>
<ellipse cx="251.3" cy="381.0" rx="3.1" ry="3.4" fill="#0b60c6"/>
<ellipse cx="260.8" cy="372.6" rx="3.1" ry="3.4" fill="#0b60c6"/>
<ellipse cx="261.1" cy="372.3" rx="3.1" ry="3.4" fill="#0b60c6"/>
<ellipse cx="174.2" cy="446.3" rx="3.1" ry="3.4" fill="#7300f2"/>
<ellipse cx="170.5" cy="451.6" rx="3.1" ry="3.4" fill="#7300f2"/>
<ellipse cx="173.2" cy="454.7" rx="3.1" ry="3.4" fill="#7300f2"/>
<ellipse cx="155.8" cy="458.9" rx="3.1" ry="3.4" fill="#7300f2"/>
<ellipse cx="169.0" cy="443.7" rx="3.1" ry="3.4" fill="#7300f2"/>
<ellipse cx="174.5" cy="446.1" rx="3.1" ry="3.4" fill="#7300f2"/>
<ellipse cx="170.3" cy="451.8" rx="3.1" ry="3.4" fill="#7300f2"/>
<ellipse cx="208.2" cy="426.1" rx="3.1" ry="3.4" fill="#7300f2"/>
<ellipse cx="211.3" cy="424.5" rx="3.1" ry="3.4" fill="#7300f2"/>
<ellipse cx="219.7" cy="415.0" rx="3.1" ry="3.4" fill="#7300f2"/>
<ellipse cx="220.8" cy="408.7" rx="3.1" ry="3.4" fill="#7300f2"/>
<ellipse cx="222.9" cy="398.2" rx="3.1" ry="3.4" fill="#7300f2"/>
<ellipse cx="210.3" cy="403.4" rx="3.1" ry="3.4" fill="#7300f2"/>
<ellipse cx="217.6" cy="406.6" rx="3.1" ry="3.4" fill="#7300f2"/>
<ellipse cx="243.9" cy="379.5" rx="3.1" ry="3.4" fill="#7300f2"/>
<ellipse cx="240.8" cy="382.1" rx="3.1" ry="3.4" fill="#7300f2"/>
<ellipse cx="237.6" cy="384.2" rx="3.1" ry="3.4" fill="#7300f2"/>
<ellipse cx="234.5" cy="386.3" rx="3.1" ry="3.4" fill="#7300f2"/>
<ellipse cx="232.4" cy="388.4" rx="3.1" ry="3.4" fill="#7300f2"/>
<ellipse cx="235.5" cy="389.5" rx="3.1" ry="3.4" fill="#7300f2"/>
<ellipse cx="230.3" cy="391.6" rx="3.1" ry="3.4" fill="#7300f2"/>
<ellipse cx="227.1" cy="392.6" rx="3.1" ry="3.4" fill="#7300f2"/>
<ellipse cx="224.0" cy="394.7" rx="3.1" ry="3.4" fill="#7300f2"/>
<ellipse cx="226.1" cy="396.8" rx="3.1" ry="3.4" fill="#7300f2"/>
<ellipse cx="229.2" cy="398.9" rx="3.1" ry="3.4" fill="#7300f2"/>
<ellipse cx="227.1" cy="402.1" rx="3.1" ry="3.4" fill="#7300f2"/>
<ellipse cx="221.8" cy="398.9" rx="3.1" ry="3.4" fill="#7300f2"/>
<ellipse cx="220.8" cy="406.3" rx="3.1" ry="3.4" fill="#7300f2"/>
<ellipse cx="219.7" cy="412.6" rx="3.1" ry="3.4" fill="#7300f2"/>
<ellipse cx="223.9" cy="412.6" rx="3.1" ry="3.4" fill="#7300f2"/>
<ellipse cx="211.3" cy="402.1" rx="3.1" ry="3.4" fill="#7300f2"/>
<ellipse cx="208.2" cy="404.2" rx="3.1" ry="3.4" fill="#7300f2"/>
<ellipse cx="232.4" cy="393.7" rx="3.1" ry="3.4" fill="#7300f2"/>
<ellipse cx="225.0" cy="398.0" rx="3.1" ry="3.4" fill="#7300f2"/>
<ellipse cx="228.0" cy="395.0" rx="3.1" ry="3.4" fill="#7300f2"/>
<ellipse cx="231.0" cy="392.0" rx="3.1" ry="3.4" fill="#7300f2"/>
<ellipse cx="234.0" cy="389.0" rx="3.1" ry="3.4" fill="#7300f2"/>
<ellipse cx="237.0" cy="386.5" rx="3.1" ry="3.4" fill="#7300f2"/>
<ellipse cx="240.0" cy="384.0" rx="3.1" ry="3.4" fill="#7300f2"/>
<ellipse cx="243.0" cy="381.0" rx="3.1" ry="3.4" fill="#7300f2"/>
<ellipse cx="222.0" cy="401.0" rx="3.1" ry="3.4" fill="#7300f2"/>
<ellipse cx="226.0" cy="401.0" rx="3.1" ry="3.4" fill="#7300f2"/>
<ellipse cx="218.0" cy="404.0" rx="3.1" ry="3.4" fill="#7300f2"/>
<ellipse cx="215.0" cy="402.0" rx="3.1" ry="3.4" fill="#7300f2"/>
<ellipse cx="246.0" cy="379.0" rx="3.1" ry="3.4" fill="#7300f2"/>
<ellipse cx="141.1" cy="485.3" rx="3.1" ry="3.4" fill="#ffa3a3"/>
<ellipse cx="144.7" cy="469.0" rx="3.1" ry="3.4" fill="#ffa3a3"/>
<ellipse cx="154.2" cy="469.0" rx="3.1" ry="3.4" fill="#ffa3a3"/>
<ellipse cx="153.7" cy="472.1" rx="3.1" ry="3.4" fill="#ffa3a3"/>
<ellipse cx="164.7" cy="456.3" rx="3.1" ry="3.4" fill="#ffa3a3"/>
<ellipse cx="158.9" cy="447.4" rx="3.1" ry="3.4" fill="#ffa3a3"/>
<ellipse cx="153.2" cy="454.7" rx="3.1" ry="3.4" fill="#ffa3a3"/>
<ellipse cx="172.1" cy="437.4" rx="3.1" ry="3.4" fill="#ffa3a3"/>
<ellipse cx="179.5" cy="442.6" rx="3.1" ry="3.4" fill="#ffa3a3"/>
<ellipse cx="182.6" cy="445.8" rx="3.1" ry="3.4" fill="#ffa3a3"/>
<ellipse cx="183.7" cy="441.6" rx="3.1" ry="3.4" fill="#ffa3a3"/>
<ellipse cx="179.0" cy="464.7" rx="3.1" ry="3.4" fill="#ffa3a3"/>
<ellipse cx="182.6" cy="463.7" rx="3.1" ry="3.4" fill="#ffa3a3"/>
<ellipse cx="179.0" cy="455.3" rx="3.1" ry="3.4" fill="#ffa3a3"/>
<ellipse cx="182.6" cy="454.2" rx="3.1" ry="3.4" fill="#ffa3a3"/>
<ellipse cx="188.9" cy="461.6" rx="3.1" ry="3.4" fill="#ffa3a3"/>
<ellipse cx="170.0" cy="434.2" rx="3.1" ry="3.4" fill="#ffa3a3"/>
<ellipse cx="160.5" cy="444.7" rx="3.1" ry="3.4" fill="#ffa3a3"/>
<ellipse cx="137.4" cy="473.0" rx="3.1" ry="3.4" fill="#ffa3a3"/>
<ellipse cx="141.1" cy="482.0" rx="3.1" ry="3.4" fill="#ffa3a3"/>
<ellipse cx="171.3" cy="437.1" rx="3.1" ry="3.4" fill="#ffa3a3"/>
<ellipse cx="175.5" cy="438.2" rx="3.1" ry="3.4" fill="#ffa3a3"/>
<ellipse cx="182.9" cy="443.4" rx="3.1" ry="3.4" fill="#ffa3a3"/>
<ellipse cx="186.1" cy="443.4" rx="3.1" ry="3.4" fill="#ffa3a3"/>
<ellipse cx="191.3" cy="437.1" rx="3.1" ry="3.4" fill="#ffa3a3"/>
<ellipse cx="197.6" cy="436.1" rx="3.1" ry="3.4" fill="#ffa3a3"/>
<ellipse cx="200.8" cy="429.7" rx="3.1" ry="3.4" fill="#ffa3a3"/>
<ellipse cx="196.6" cy="423.4" rx="3.1" ry="3.4" fill="#ffa3a3"/>
<ellipse cx="191.3" cy="415.0" rx="3.1" ry="3.4" fill="#ffa3a3"/>
<ellipse cx="216.6" cy="400.3" rx="3.1" ry="3.4" fill="#ffa3a3"/>
<ellipse cx="219.7" cy="402.4" rx="3.1" ry="3.4" fill="#ffa3a3"/>
<ellipse cx="213.4" cy="405.5" rx="3.1" ry="3.4" fill="#ffa3a3"/>
<ellipse cx="210.3" cy="413.9" rx="3.1" ry="3.4" fill="#ffa3a3"/>
<ellipse cx="197.6" cy="449.7" rx="3.1" ry="3.4" fill="#ffa3a3"/>
<ellipse cx="182.9" cy="450.8" rx="3.1" ry="3.4" fill="#ffa3a3"/>
<ellipse cx="178.7" cy="439.2" rx="3.1" ry="3.4" fill="#ffa3a3"/>
<ellipse cx="173.4" cy="434.0" rx="3.1" ry="3.4" fill="#ffa3a3"/>
<ellipse cx="202.9" cy="421.3" rx="3.1" ry="3.4" fill="#ffa3a3"/>
<ellipse cx="186.1" cy="421.3" rx="3.1" ry="3.4" fill="#ffa3a3"/>
<ellipse cx="193.4" cy="426.6" rx="3.1" ry="3.4" fill="#ffa3a3"/>
<ellipse cx="197.6" cy="446.0" rx="3.1" ry="3.4" fill="#ffa3a3"/>
<ellipse cx="217.6" cy="396.8" rx="3.1" ry="3.4" fill="#ffa3a3"/>
<ellipse cx="219.7" cy="402.1" rx="3.1" ry="3.4" fill="#ffa3a3"/>
<ellipse cx="215.5" cy="400.0" rx="3.1" ry="3.4" fill="#ffa3a3"/>
<ellipse cx="211.3" cy="406.3" rx="3.1" ry="3.4" fill="#ffa3a3"/>
<ellipse cx="171.1" cy="435.8" rx="3.1" ry="3.4" fill="#ffa3a3"/>
<ellipse cx="172.8" cy="435.7" rx="3.1" ry="3.4" fill="#ffa3a3"/>
<ellipse cx="181.1" cy="444.2" rx="3.1" ry="3.4" fill="#ffa3a3"/>
<ellipse cx="181.6" cy="442.1" rx="3.1" ry="3.4" fill="#ffa3a3"/>
<ellipse cx="183.1" cy="443.7" rx="3.1" ry="3.4" fill="#ffa3a3"/>
<ellipse cx="184.3" cy="444.6" rx="3.1" ry="3.4" fill="#ffa3a3"/>
<ellipse cx="182.8" cy="448.3" rx="3.1" ry="3.4" fill="#ffa3a3"/>
<ellipse cx="181.2" cy="440.4" rx="3.1" ry="3.4" fill="#ffa3a3"/>
<ellipse cx="180.8" cy="464.2" rx="3.1" ry="3.4" fill="#ffa3a3"/>
<ellipse cx="180.8" cy="454.8" rx="3.1" ry="3.4" fill="#ffa3a3"/>
<ellipse cx="173.4" cy="437.6" rx="3.1" ry="3.4" fill="#ffa3a3"/>
<ellipse cx="172.4" cy="435.6" rx="3.1" ry="3.4" fill="#ffa3a3"/>
<ellipse cx="174.4" cy="436.1" rx="3.1" ry="3.4" fill="#ffa3a3"/>
<ellipse cx="195.0" cy="425.0" rx="3.1" ry="3.4" fill="#ffa3a3"/>
<ellipse cx="218.1" cy="401.4" rx="3.1" ry="3.4" fill="#ffa3a3"/>
<ellipse cx="217.1" cy="398.6" rx="3.1" ry="3.4" fill="#ffa3a3"/>
<ellipse cx="218.1" cy="401.2" rx="3.1" ry="3.4" fill="#ffa3a3"/>
<ellipse cx="217.6" cy="401.2" rx="3.1" ry="3.4" fill="#ffa3a3"/>
<ellipse cx="197.6" cy="447.9" rx="3.1" ry="3.4" fill="#ffa3a3"/>
<ellipse cx="218.6" cy="399.5" rx="3.1" ry="3.4" fill="#ffa3a3"/>
<ellipse cx="216.6" cy="398.4" rx="3.1" ry="3.4" fill="#ffa3a3"/>
<ellipse cx="217.6" cy="401.1" rx="3.1" ry="3.4" fill="#ffa3a3"/>
<ellipse cx="137.4" cy="476.3" rx="3.1" ry="3.4" fill="#fb5959"/>
<ellipse cx="144.7" cy="463.7" rx="3.1" ry="3.4" fill="#fb5959"/>
<ellipse cx="144.7" cy="466.0" rx="3.1" ry="3.4" fill="#fb5959"/>
<ellipse cx="150.0" cy="458.4" rx="3.1" ry="3.4" fill="#fb5959"/>
<ellipse cx="152.1" cy="456.3" rx="3.1" ry="3.4" fill="#fb5959"/>
<ellipse cx="158.4" cy="465.3" rx="3.1" ry="3.4" fill="#fb5959"/>
<ellipse cx="161.6" cy="448.4" rx="3.1" ry="3.4" fill="#fb5959"/>
<ellipse cx="166.3" cy="447.9" rx="3.1" ry="3.4" fill="#fb5959"/>
<ellipse cx="167.4" cy="441.1" rx="3.1" ry="3.4" fill="#fb5959"/>
<ellipse cx="179.0" cy="460.0" rx="3.1" ry="3.4" fill="#fb5959"/>
<ellipse cx="182.6" cy="457.9" rx="3.1" ry="3.4" fill="#fb5959"/>
<ellipse cx="179.5" cy="432.1" rx="3.1" ry="3.4" fill="#fb5959"/>
<ellipse cx="167.1" cy="441.3" rx="3.1" ry="3.4" fill="#fb5959"/>
<ellipse cx="166.6" cy="447.6" rx="3.1" ry="3.4" fill="#fb5959"/>
<ellipse cx="179.7" cy="430.8" rx="3.1" ry="3.4" fill="#fb5959"/>
<ellipse cx="181.8" cy="427.6" rx="3.1" ry="3.4" fill="#fb5959"/>
<ellipse cx="187.1" cy="425.5" rx="3.1" ry="3.4" fill="#fb5959"/>
<ellipse cx="189.2" cy="422.4" rx="3.1" ry="3.4" fill="#fb5959"/>
<ellipse cx="193.4" cy="418.2" rx="3.1" ry="3.4" fill="#fb5959"/>
<ellipse cx="190.3" cy="430.3" rx="3.1" ry="3.4" fill="#fb5959"/>
<ellipse cx="196.1" cy="429.2" rx="3.1" ry="3.4" fill="#fb5959"/>
<ellipse cx="201.8" cy="409.7" rx="3.1" ry="3.4" fill="#fb5959"/>
<ellipse cx="206.1" cy="409.7" rx="3.1" ry="3.4" fill="#fb5959"/>
<ellipse cx="200.8" cy="416.1" rx="3.1" ry="3.4" fill="#fb5959"/>
<ellipse cx="203.9" cy="416.6" rx="3.1" ry="3.4" fill="#fb5959"/>
<ellipse cx="212.9" cy="410.8" rx="3.1" ry="3.4" fill="#fb5959"/>
<ellipse cx="214.5" cy="417.1" rx="3.1" ry="3.4" fill="#fb5959"/>
<ellipse cx="222.4" cy="410.3" rx="3.1" ry="3.4" fill="#fb5959"/>
<ellipse cx="197.6" cy="442.4" rx="3.1" ry="3.4" fill="#fb5959"/>
<ellipse cx="209.2" cy="416.1" rx="3.1" ry="3.4" fill="#fb5959"/>
<ellipse cx="222.9" cy="410.5" rx="3.1" ry="3.4" fill="#fb5959"/>
<ellipse cx="207.1" cy="409.5" rx="3.1" ry="3.4" fill="#fb5959"/>
<ellipse cx="212.4" cy="410.5" rx="3.1" ry="3.4" fill="#fb5959"/>
<ellipse cx="214.5" cy="416.8" rx="3.1" ry="3.4" fill="#fb5959"/>
<ellipse cx="208.2" cy="414.7" rx="3.1" ry="3.4" fill="#fb5959"/>
<ellipse cx="207.6" cy="421.8" rx="3.1" ry="3.4" fill="#ee0000"/>
<rect x="60.5" y="318.0" width="263.30" height="211.50" fill="none" stroke="#5a5a5a" stroke-width="1.45"/>
<line x1="60.50" y1="529.50" x2="60.50" y2="533.50" stroke="#5a5a5a" stroke-width="1.2" />
<line x1="56.50" y1="318.00" x2="60.50" y2="318.00" stroke="#5a5a5a" stroke-width="1.2" />
<line x1="98.11" y1="529.50" x2="98.11" y2="533.50" stroke="#5a5a5a" stroke-width="1.2" />
<line x1="98.11" y1="318.00" x2="98.11" y2="321.00" stroke="#5a5a5a" stroke-width="1.2" />
<line x1="56.50" y1="348.21" x2="60.50" y2="348.21" stroke="#5a5a5a" stroke-width="1.2" />
<line x1="320.80" y1="348.21" x2="323.80" y2="348.21" stroke="#5a5a5a" stroke-width="1.2" />
<line x1="135.73" y1="529.50" x2="135.73" y2="533.50" stroke="#5a5a5a" stroke-width="1.2" />
<line x1="135.73" y1="318.00" x2="135.73" y2="321.00" stroke="#5a5a5a" stroke-width="1.2" />
<line x1="56.50" y1="378.43" x2="60.50" y2="378.43" stroke="#5a5a5a" stroke-width="1.2" />
<line x1="320.80" y1="378.43" x2="323.80" y2="378.43" stroke="#5a5a5a" stroke-width="1.2" />
<line x1="173.34" y1="529.50" x2="173.34" y2="533.50" stroke="#5a5a5a" stroke-width="1.2" />
<line x1="173.34" y1="318.00" x2="173.34" y2="321.00" stroke="#5a5a5a" stroke-width="1.2" />
<line x1="56.50" y1="408.64" x2="60.50" y2="408.64" stroke="#5a5a5a" stroke-width="1.2" />
<line x1="320.80" y1="408.64" x2="323.80" y2="408.64" stroke="#5a5a5a" stroke-width="1.2" />
<line x1="210.96" y1="529.50" x2="210.96" y2="533.50" stroke="#5a5a5a" stroke-width="1.2" />
<line x1="210.96" y1="318.00" x2="210.96" y2="321.00" stroke="#5a5a5a" stroke-width="1.2" />
<line x1="56.50" y1="438.86" x2="60.50" y2="438.86" stroke="#5a5a5a" stroke-width="1.2" />
<line x1="320.80" y1="438.86" x2="323.80" y2="438.86" stroke="#5a5a5a" stroke-width="1.2" />
<line x1="248.57" y1="529.50" x2="248.57" y2="533.50" stroke="#5a5a5a" stroke-width="1.2" />
<line x1="248.57" y1="318.00" x2="248.57" y2="321.00" stroke="#5a5a5a" stroke-width="1.2" />
<line x1="56.50" y1="469.07" x2="60.50" y2="469.07" stroke="#5a5a5a" stroke-width="1.2" />
<line x1="320.80" y1="469.07" x2="323.80" y2="469.07" stroke="#5a5a5a" stroke-width="1.2" />
<line x1="286.19" y1="529.50" x2="286.19" y2="533.50" stroke="#5a5a5a" stroke-width="1.2" />
<line x1="286.19" y1="318.00" x2="286.19" y2="321.00" stroke="#5a5a5a" stroke-width="1.2" />
<line x1="56.50" y1="499.29" x2="60.50" y2="499.29" stroke="#5a5a5a" stroke-width="1.2" />
<line x1="320.80" y1="499.29" x2="323.80" y2="499.29" stroke="#5a5a5a" stroke-width="1.2" />
<line x1="323.80" y1="529.50" x2="323.80" y2="533.50" stroke="#5a5a5a" stroke-width="1.2" />
<line x1="56.50" y1="529.50" x2="60.50" y2="529.50" stroke="#5a5a5a" stroke-width="1.2" />
<text x="60.50" y="547.00" font-size="11" text-anchor="middle" fill="#111" >10<tspan dy="-4.7" font-size="7.5">-7</tspan></text>
<text x="98.11" y="547.00" font-size="11" text-anchor="middle" fill="#111" >10<tspan dy="-4.7" font-size="7.5">-6</tspan></text>
<text x="135.73" y="547.00" font-size="11" text-anchor="middle" fill="#111" >10<tspan dy="-4.7" font-size="7.5">-5</tspan></text>
<text x="173.34" y="547.00" font-size="11" text-anchor="middle" fill="#111" >10<tspan dy="-4.7" font-size="7.5">-4</tspan></text>
<text x="210.96" y="547.00" font-size="11" text-anchor="middle" fill="#111" >10<tspan dy="-4.7" font-size="7.5">-3</tspan></text>
<text x="248.57" y="547.00" font-size="11" text-anchor="middle" fill="#111" >10<tspan dy="-4.7" font-size="7.5">-2</tspan></text>
<text x="286.19" y="547.00" font-size="11" text-anchor="middle" fill="#111" >10<tspan dy="-4.7" font-size="7.5">-1</tspan></text>
<text x="323.80" y="547.00" font-size="11" text-anchor="middle" fill="#111" >10<tspan dy="-4.7" font-size="7.5">0</tspan></text>
<text x="53.40" y="322.20" font-size="11" text-anchor="end" fill="#111" >10<tspan dy="-4.7" font-size="7.5">0</tspan></text>
<text x="53.40" y="352.41" font-size="11" text-anchor="end" fill="#111" >10<tspan dy="-4.7" font-size="7.5">-1</tspan></text>
<text x="53.40" y="382.63" font-size="11" text-anchor="end" fill="#111" >10<tspan dy="-4.7" font-size="7.5">-2</tspan></text>
<text x="53.40" y="412.84" font-size="11" text-anchor="end" fill="#111" >10<tspan dy="-4.7" font-size="7.5">-3</tspan></text>
<text x="53.40" y="443.06" font-size="11" text-anchor="end" fill="#111" >10<tspan dy="-4.7" font-size="7.5">-4</tspan></text>
<text x="53.40" y="473.27" font-size="11" text-anchor="end" fill="#111" >10<tspan dy="-4.7" font-size="7.5">-5</tspan></text>
<text x="53.40" y="503.49" font-size="11" text-anchor="end" fill="#111" >10<tspan dy="-4.7" font-size="7.5">-6</tspan></text>
<text x="53.40" y="533.70" font-size="11" text-anchor="end" fill="#111" >10<tspan dy="-4.7" font-size="7.5">-7</tspan></text>
<text x="191.65" y="565.50" font-size="13" text-anchor="middle" fill="#111"><tspan fill="#1db3b3">Measured</tspan> mole fractions in permeate</text>
<text transform="translate(22.8 423.75) rotate(-90)" x="0" y="0" font-size="13" text-anchor="middle" fill="#111"><tspan fill="#ee1c8c">Predicted</tspan> mole fractions in permeate</text>
<text x="68.20" y="331.80" font-size="12" text-anchor="start" fill="#111" font-style="italic" >Boiling point range (<tspan dy="-4.6" font-size="7">o</tspan><tspan dy="4.6">C</tspan><tspan font-size="11">)</tspan></text>
<circle cx="78.8" cy="342.90" r="2.95" fill="#0b60c6"/>
<text x="93.10" y="346.90" font-size="12" text-anchor="start" fill="#111" font-style="italic" >&lt; 100</text>
<circle cx="78.8" cy="357.50" r="2.95" fill="#5caaf7"/>
<text x="93.10" y="361.50" font-size="12" text-anchor="start" fill="#111" font-style="italic" >100 - 200</text>
<circle cx="78.8" cy="372.10" r="2.95" fill="#cfa7f9"/>
<text x="93.10" y="376.10" font-size="12" text-anchor="start" fill="#111" font-style="italic" >200 - 300</text>
<circle cx="78.8" cy="386.70" r="2.95" fill="#7300f2"/>
<text x="93.10" y="390.70" font-size="12" text-anchor="start" fill="#111" font-style="italic" >300 - 400</text>
<circle cx="78.8" cy="401.30" r="2.95" fill="#ffa3a3"/>
<text x="93.10" y="405.30" font-size="12" text-anchor="start" fill="#111" font-style="italic" >400 - 500</text>
<circle cx="78.8" cy="415.90" r="2.95" fill="#fb5959"/>
<text x="93.10" y="419.90" font-size="12" text-anchor="start" fill="#111" font-style="italic" >500 - 600</text>
<circle cx="78.8" cy="430.50" r="2.95" fill="#ee0000"/>
<text x="93.10" y="434.50" font-size="12" text-anchor="start" fill="#111" font-style="italic" >&gt; 600</text>
<text x="188.50" y="489.80" font-size="12" text-anchor="start" fill="#111" font-style="italic" >Total flux (Lm<tspan dy="-5" font-size="8.5">-2</tspan><tspan dy="5">hr</tspan><tspan dy="-5" font-size="8.5">-1</tspan><tspan dy="5">)</tspan></text>
<text x="188.00" y="504.40" font-size="12" text-anchor="start" fill="#1aabab" font-style="italic" >Measured: 1.375</text>
<text x="188.00" y="518.90" font-size="12" text-anchor="start" fill="#ee1c8c" font-style="italic" >Predicted: 0.34 +/- 0.23</text>
<text x="352.50" y="22.50" font-size="26" text-anchor="start" fill="#000" font-weight="bold" >b</text>
<polyline points="431.31,243.20 443.21,173.64 447.53,172.58 457.48,160.99 468.36,156.77 476.62,185.23 484.88,191.55 491.64,199.99 498.40,213.69 501.59,222.12 506.88,208.42 511.54,212.63 515.59,223.17 519.05,221.07 522.01,226.34 524.30,223.17 527.91,229.50 530.20,226.34 533.69,229.50 538.38,232.66 542.51,227.39 545.33,233.71 547.58,229.50 551.18,234.77 554.71,236.88 556.96,233.71 559.97,234.77 563.72,234.98 566.95,232.55 569.17,235.82 572.06,236.24 575.96,236.45 580.43,234.87 582.34,236.14 586.21,233.50 589.70,234.98 595.60,237.93 598.98,237.19 601.45,237.72 609.56,223.91 617.52,235.08 623.90,225.91 630.29,231.18 636.67,234.66 644.55,234.56 649.36,240.14 675.22,243.20" fill="none" stroke="#7a7a7a" stroke-width="2.4" stroke-linejoin="round"/>
<polyline points="431.31,243.20 442.08,158.88 446.96,122.73 456.91,109.66 468.51,114.19 471.59,130.74 476.51,159.09 477.37,162.57 481.88,168.89 486.76,176.80 499.90,217.90 501.59,220.01 506.88,207.36 511.54,212.11 515.59,225.28 519.05,222.65 522.01,227.92 524.30,224.75 527.91,231.08 530.20,227.39 533.69,231.08 538.38,234.24 542.51,227.39 545.33,235.82 547.58,229.50 551.18,237.40 554.71,240.04 556.96,236.35 559.97,238.46 563.72,238.88 567.10,239.19 571.04,239.62 575.96,240.46 578.93,240.04 582.83,240.99 586.74,239.83 590.72,240.99 594.58,241.62 600.48,241.83 606.37,240.04 610.24,239.09 617.52,241.62 623.90,240.14 630.29,240.88 636.67,240.88 644.55,240.35 650.07,241.94 675.22,242.99" fill="none" stroke="#12a7a7" stroke-width="2.4" stroke-linejoin="round"/>
<polygon points="431.31,243.20 441.71,152.03 446.40,149.60 456.91,134.95 468.51,134.95 472.79,152.77 475.87,163.83 477.37,168.89 486.76,178.38 499.90,214.21 501.59,216.01 506.88,203.67 511.54,208.42 515.59,220.54 519.05,217.80 522.01,222.96 524.30,220.01 527.91,226.44 530.20,222.44 533.69,226.44 538.38,230.02 542.51,222.44 545.33,231.71 547.58,224.12 551.18,233.50 554.71,237.09 556.96,231.71 559.97,234.24 563.72,236.67 567.18,235.40 570.56,237.61 574.05,236.88 577.43,237.61 580.84,236.24 582.83,237.40 585.80,234.87 588.73,236.24 591.69,237.82 594.58,239.19 597.47,238.98 600.48,239.41 604.38,236.24 607.16,236.24 610.24,236.67 616.73,237.40 623.90,236.45 630.29,238.67 636.67,238.88 643.76,239.83 650.15,240.56 675.22,241.72 675.22,243.20 650.15,243.09 643.76,242.36 636.67,241.41 630.29,241.20 623.90,238.98 616.73,239.93 610.24,239.19 607.16,238.77 604.38,238.77 600.48,241.94 597.47,241.51 594.58,241.72 591.69,240.35 588.73,238.77 585.80,237.40 582.83,239.93 580.84,238.77 577.43,240.14 574.05,239.41 570.56,240.14 567.18,237.93 563.72,239.19 559.97,239.51 556.96,236.98 554.71,242.36 551.18,238.77 547.58,229.39 545.33,236.98 542.51,227.71 538.38,235.29 533.69,231.71 530.20,227.71 527.91,231.71 524.30,225.28 522.01,228.23 519.05,223.07 515.59,225.81 511.54,213.69 506.88,208.94 501.59,221.28 499.90,219.48 486.76,183.65 477.37,174.16 475.87,169.10 472.79,158.04 468.51,140.22 456.91,140.22 446.40,154.87 441.71,157.30 431.31,243.20" fill="#ee0a80" fill-opacity="0.45"/>
<polyline points="431.31,243.20 441.71,154.66 446.40,152.24 456.91,137.59 468.51,137.59 472.79,155.40 475.87,166.47 477.37,171.53 486.76,181.01 499.90,216.85 501.59,218.64 506.88,206.31 511.54,211.05 515.59,223.17 519.05,220.43 522.01,225.60 524.30,222.65 527.91,229.08 530.20,225.07 533.69,229.08 538.38,232.66 542.51,225.07 545.33,234.35 547.58,226.76 551.18,236.14 554.71,239.72 556.96,234.35 559.97,236.88 563.72,237.93 567.18,236.67 570.56,238.88 574.05,238.14 577.43,238.88 580.84,237.51 582.83,238.67 585.80,236.14 588.73,237.51 591.69,239.09 594.58,240.46 597.47,240.25 600.48,240.67 604.38,237.51 607.16,237.51 610.24,237.93 616.73,238.67 623.90,237.72 630.29,239.93 636.67,240.14 643.76,241.09 650.15,241.83 675.22,242.99" fill="none" stroke="#ee0a80" stroke-width="2.9" stroke-linejoin="round"/>
<rect x="412.8" y="32.4" width="262.80" height="210.80" fill="none" stroke="#3a3a3a" stroke-width="1.2"/>
<line x1="412.80" y1="243.20" x2="412.80" y2="247.20" stroke="#3a3a3a" stroke-width="1.2" />
<text x="412.80" y="259.00" font-size="11" text-anchor="middle" fill="#111" >0</text>
<line x1="450.34" y1="243.20" x2="450.34" y2="247.20" stroke="#3a3a3a" stroke-width="1.2" />
<text x="450.34" y="259.00" font-size="11" text-anchor="middle" fill="#111" >100</text>
<line x1="487.89" y1="243.20" x2="487.89" y2="247.20" stroke="#3a3a3a" stroke-width="1.2" />
<text x="487.89" y="259.00" font-size="11" text-anchor="middle" fill="#111" >200</text>
<line x1="525.43" y1="243.20" x2="525.43" y2="247.20" stroke="#3a3a3a" stroke-width="1.2" />
<text x="525.43" y="259.00" font-size="11" text-anchor="middle" fill="#111" >300</text>
<line x1="562.97" y1="243.20" x2="562.97" y2="247.20" stroke="#3a3a3a" stroke-width="1.2" />
<text x="562.97" y="259.00" font-size="11" text-anchor="middle" fill="#111" >400</text>
<line x1="600.51" y1="243.20" x2="600.51" y2="247.20" stroke="#3a3a3a" stroke-width="1.2" />
<text x="600.51" y="259.00" font-size="11" text-anchor="middle" fill="#111" >500</text>
<line x1="638.06" y1="243.20" x2="638.06" y2="247.20" stroke="#3a3a3a" stroke-width="1.2" />
<text x="638.06" y="259.00" font-size="11" text-anchor="middle" fill="#111" >600</text>
<line x1="675.60" y1="243.20" x2="675.60" y2="247.20" stroke="#3a3a3a" stroke-width="1.2" />
<text x="675.60" y="259.00" font-size="11" text-anchor="middle" fill="#111" >700</text>
<line x1="408.80" y1="243.20" x2="412.80" y2="243.20" stroke="#3a3a3a" stroke-width="1.2" />
<text x="405.50" y="247.10" font-size="11" text-anchor="end" fill="#111" >0</text>
<line x1="408.80" y1="201.04" x2="412.80" y2="201.04" stroke="#3a3a3a" stroke-width="1.2" />
<text x="405.50" y="204.94" font-size="11" text-anchor="end" fill="#111" >4</text>
<line x1="408.80" y1="158.88" x2="412.80" y2="158.88" stroke="#3a3a3a" stroke-width="1.2" />
<text x="405.50" y="162.78" font-size="11" text-anchor="end" fill="#111" >8</text>
<line x1="408.80" y1="116.72" x2="412.80" y2="116.72" stroke="#3a3a3a" stroke-width="1.2" />
<text x="405.50" y="120.62" font-size="11" text-anchor="end" fill="#111" >12</text>
<line x1="408.80" y1="74.56" x2="412.80" y2="74.56" stroke="#3a3a3a" stroke-width="1.2" />
<text x="405.50" y="78.46" font-size="11" text-anchor="end" fill="#111" >16</text>
<line x1="408.80" y1="32.40" x2="412.80" y2="32.40" stroke="#3a3a3a" stroke-width="1.2" />
<text x="405.50" y="36.30" font-size="11" text-anchor="end" fill="#111" >20</text>
<text x="544.20" y="278.50" font-size="13" text-anchor="middle" fill="#111">Boiling point (°C)</text>
<text transform="translate(379.8 132.00) rotate(-90)" font-size="13" text-anchor="middle" fill="#111">Weight fraction (%)</text>
<line x1="422.20" y1="49.60" x2="444.20" y2="49.60" stroke="#7a7a7a" stroke-width="2.7" />
<text x="448.50" y="53.10" font-size="11.85" text-anchor="start" fill="#5e5e5e" font-style="italic" >Feed</text>
<line x1="422.20" y1="64.00" x2="444.20" y2="64.00" stroke="#12a7a7" stroke-width="2.7" />
<text x="448.50" y="67.50" font-size="11.85" text-anchor="start" fill="#1aabab" font-style="italic" >Measured permeated</text>
<line x1="422.20" y1="78.40" x2="444.20" y2="78.40" stroke="#ee0a80" stroke-width="2.7" />
<text x="448.50" y="81.90" font-size="11.85" text-anchor="start" fill="#ee1c8c" font-style="italic" >Predicted permeated</text>
<line x1="552.20" y1="198.80" x2="562.97" y2="243.20" stroke="#777" stroke-width="0.6" stroke-dasharray="1 1"/>
<line x1="661.60" y1="198.80" x2="675.60" y2="243.20" stroke="#777" stroke-width="0.6" stroke-dasharray="1 1"/>
<rect x="550.7" y="94.7" width="112.90" height="90.10" fill="#fff" stroke="none"/>
<clipPath id="icb"><rect x="550.7" y="94.7" width="112.90" height="90.10"/></clipPath>
<g clip-path="url(#icb)">
<polyline points="547.69,148.76 551.45,149.66 554.69,139.30 556.91,153.27 559.81,155.07 563.72,155.97 568.20,149.21 570.12,154.62 574.00,143.35 577.49,149.66 583.40,162.28 586.79,159.12 589.27,161.37 597.40,102.36 605.38,150.11 611.78,110.92 618.18,133.44 624.57,148.31 632.48,147.86 637.29,171.74 663.22,184.80" fill="none" stroke="#7a7a7a" stroke-width="2.7" stroke-linejoin="round"/>
<polyline points="547.69,164.53 551.45,166.33 554.84,167.68 558.79,169.48 563.72,173.09 566.69,171.29 570.61,175.34 574.52,170.38 578.51,175.34 582.39,178.04 588.30,178.94 594.20,171.29 598.08,167.23 605.38,178.04 611.78,171.74 618.18,174.89 624.57,174.89 632.48,172.64 638.01,179.39 663.22,183.90" fill="none" stroke="#12a7a7" stroke-width="2.7" stroke-linejoin="round"/>
<polygon points="547.69,151.01 551.45,155.52 554.91,150.11 558.30,159.57 561.80,156.42 565.19,159.57 568.61,153.72 570.61,158.67 573.58,147.86 576.52,153.72 579.49,160.47 582.39,166.33 585.29,165.43 588.30,167.23 592.21,152.36 594.99,152.36 598.08,154.17 604.59,157.32 611.78,153.27 618.18,162.73 624.57,163.63 631.69,167.68 638.08,176.24 663.22,181.20 663.22,184.80 638.08,181.65 631.69,183.90 624.57,179.84 618.18,178.94 611.78,169.48 604.59,173.54 598.08,170.38 594.99,168.58 592.21,168.58 588.30,180.75 585.29,178.94 582.39,179.84 579.49,173.99 576.52,167.23 573.58,161.37 570.61,172.19 568.61,167.23 565.19,173.09 561.80,169.93 558.30,173.09 554.91,163.63 551.45,169.03 547.69,164.53" fill="#ee0a80" fill-opacity="0.45"/>
<polyline points="547.69,157.77 551.45,162.28 554.91,156.87 558.30,166.33 561.80,163.18 565.19,166.33 568.61,160.47 570.61,165.43 573.58,154.62 576.52,160.47 579.49,167.23 582.39,173.09 585.29,172.19 588.30,173.99 592.21,160.47 594.99,160.47 598.08,162.28 604.59,165.43 611.78,161.37 618.18,170.83 624.57,171.74 631.69,175.79 638.08,178.94 663.22,183.90" fill="none" stroke="#ee0a80" stroke-width="3.1" stroke-linejoin="round"/>
</g>
<line x1="550.70" y1="94.70" x2="663.60" y2="94.70" stroke="#8a8a8a" stroke-width="1.3" />
<line x1="663.60" y1="94.70" x2="663.60" y2="184.80" stroke="#333" stroke-width="1.2" />
<line x1="550.70" y1="94.70" x2="550.70" y2="184.80" stroke="#555" stroke-width="1.3" />
<line x1="550.70" y1="184.80" x2="663.60" y2="184.80" stroke="#333" stroke-width="1.3" />
<line x1="549.20" y1="184.80" x2="550.70" y2="184.80" stroke="#333" stroke-width="1.1" />
<text x="547.70" y="188.30" font-size="10" text-anchor="end" fill="#111" >0</text>
<line x1="549.20" y1="139.75" x2="550.70" y2="139.75" stroke="#333" stroke-width="1.1" />
<text x="547.70" y="143.25" font-size="10" text-anchor="end" fill="#111" >1</text>
<line x1="549.20" y1="94.70" x2="550.70" y2="94.70" stroke="#333" stroke-width="1.1" />
<text x="547.70" y="98.20" font-size="10" text-anchor="end" fill="#111" >2</text>
<text x="550.70" y="195.60" font-size="10" text-anchor="middle" fill="#111" >400</text>
<text x="588.33" y="195.60" font-size="10" text-anchor="middle" fill="#111" >500</text>
<line x1="588.33" y1="182.80" x2="588.33" y2="184.80" stroke="#333" stroke-width="1" />
<text x="625.97" y="195.60" font-size="10" text-anchor="middle" fill="#111" >600</text>
<line x1="625.97" y1="182.80" x2="625.97" y2="184.80" stroke="#333" stroke-width="1" />
<text x="663.60" y="195.60" font-size="10" text-anchor="middle" fill="#111" >700</text>
<line x1="569.52" y1="183.30" x2="569.52" y2="184.80" stroke="#333" stroke-width="0.9" />
<line x1="607.15" y1="183.30" x2="607.15" y2="184.80" stroke="#333" stroke-width="0.9" />
<line x1="644.78" y1="183.30" x2="644.78" y2="184.80" stroke="#333" stroke-width="0.9" />
<line x1="550.70" y1="162.28" x2="552.20" y2="162.28" stroke="#333" stroke-width="0.9" />
<line x1="550.70" y1="117.23" x2="552.20" y2="117.23" stroke="#333" stroke-width="0.9" />
<text x="352.50" y="308.00" font-size="26" text-anchor="start" fill="#000" font-weight="bold" >d</text>
<polyline points="416.18,528.50 430.60,469.53 447.71,424.88 458.23,421.73 469.49,434.15 478.50,426.15 486.38,427.62 493.82,454.79 499.15,439.63 505.42,463.85 509.62,478.59 515.89,475.43 520.10,477.53 525.43,498.38 528.62,471.64 531.32,505.33 534.21,475.85 539.09,494.80 542.25,494.80 544.58,496.91 548.40,492.70 550.21,507.44 552.83,504.28 555.46,503.23 561.21,504.49 566.35,506.39 569.32,508.70 573.11,508.28 574.99,509.55 577.80,513.55 582.61,512.49 587.37,512.71 590.00,512.71 593.01,508.28 595.63,508.91 598.71,507.86 601.53,520.92 604.42,498.38 608.21,494.59 614.03,480.90 621.01,466.16 628.03,480.90 636.82,481.96 674.47,527.45" fill="none" stroke="#7a7a7a" stroke-width="2.4" stroke-linejoin="round"/>
<polyline points="416.18,528.50 431.95,444.26 447.71,402.14 458.23,400.03 470.09,414.35 478.50,403.19 487.13,406.35 493.82,440.05 499.71,421.09 505.42,454.79 508.53,466.37 512.81,470.58 517.92,463.21 525.43,494.80 528.62,469.53 531.32,507.44 534.21,473.74 539.09,494.80 542.25,492.70 544.58,496.91 548.40,492.70 550.21,509.55 552.20,499.23 554.11,515.86 555.50,503.23 558.80,513.76 561.69,507.44 566.43,507.44 570.22,510.60 571.61,513.76 573.52,519.02 575.02,513.76 577.80,517.97 580.73,515.86 584.41,516.92 587.82,519.02 590.11,514.81 592.03,517.97 595.82,515.86 599.20,512.71 601.53,520.08 605.21,510.81 614.03,501.96 621.01,499.44 628.03,508.07 636.82,509.76 674.47,527.45" fill="none" stroke="#12a7a7" stroke-width="2.4" stroke-linejoin="round"/>
<polygon points="416.18,528.50 431.95,445.94 447.71,389.71 458.23,390.98 470.09,401.51 478.50,394.77 487.13,398.77 493.82,434.15 499.71,414.78 505.42,450.58 508.53,461.11 512.81,465.32 517.92,456.90 525.43,490.38 528.62,464.27 531.32,505.12 534.21,468.48 539.09,494.59 542.25,492.49 544.58,496.70 548.40,489.12 549.83,512.71 552.20,502.39 554.11,517.55 555.50,500.49 556.93,505.12 558.80,508.07 561.69,504.28 566.43,505.12 568.30,511.86 570.22,520.29 571.61,511.86 573.52,521.34 575.02,511.86 577.80,517.55 580.73,513.76 584.41,514.60 587.82,518.39 590.11,511.86 592.03,516.50 595.82,513.76 599.20,509.97 601.53,517.34 604.42,507.02 609.60,507.02 615.72,505.54 621.01,507.23 628.03,511.44 636.82,513.34 674.47,525.76 674.47,528.50 636.82,520.50 628.03,518.60 621.01,514.39 615.72,512.71 609.60,514.18 604.42,514.18 601.53,524.50 599.20,513.34 595.82,517.13 592.03,519.87 590.11,515.23 587.82,521.76 584.41,517.97 580.73,517.13 577.80,520.92 575.02,515.23 573.52,524.71 571.61,515.23 570.22,523.66 568.30,515.23 566.43,508.49 561.69,507.65 558.80,511.44 556.93,508.49 555.50,503.86 554.11,520.92 552.20,505.76 549.83,516.07 548.40,492.49 544.58,500.07 542.25,495.86 539.09,497.96 534.21,471.85 531.32,508.49 528.62,467.64 525.43,493.75 517.92,460.27 512.81,468.69 508.53,464.48 505.42,453.95 499.71,422.36 493.82,441.73 487.13,406.35 478.50,402.35 470.09,409.09 458.23,398.56 447.71,397.30 431.95,445.94 416.18,528.50" fill="#ee0a80" fill-opacity="0.45"/>
<polyline points="416.18,528.50 431.95,445.94 447.71,393.51 458.23,394.77 470.09,405.30 478.50,398.56 487.13,402.56 493.82,437.94 499.71,418.57 505.42,452.26 508.53,462.79 512.81,467.00 517.92,458.58 525.43,492.07 528.62,465.95 531.32,506.81 534.21,470.16 539.09,496.28 542.25,494.17 544.58,498.38 548.40,490.80 549.83,514.39 552.20,504.07 554.11,519.23 555.50,502.18 556.93,506.81 558.80,509.76 561.69,505.97 566.43,506.81 568.30,513.55 570.22,521.97 571.61,513.55 573.52,523.02 575.02,513.55 577.80,519.23 580.73,515.44 584.41,516.29 587.82,520.08 590.11,513.55 592.03,518.18 595.82,515.44 599.20,511.65 601.53,520.92 604.42,510.60 609.60,510.60 615.72,509.12 621.01,510.81 628.03,515.02 636.82,516.92 674.47,527.45" fill="none" stroke="#ee0a80" stroke-width="2.9" stroke-linejoin="round"/>
<rect x="412.8" y="317.9" width="262.80" height="210.60" fill="none" stroke="#5a5a5a" stroke-width="1.35"/>
<line x1="412.80" y1="528.50" x2="412.80" y2="532.50" stroke="#5a5a5a" stroke-width="1.2" />
<text x="412.80" y="544.30" font-size="11" text-anchor="middle" fill="#111" >0</text>
<line x1="450.34" y1="528.50" x2="450.34" y2="532.50" stroke="#5a5a5a" stroke-width="1.2" />
<text x="450.34" y="544.30" font-size="11" text-anchor="middle" fill="#111" >100</text>
<line x1="487.89" y1="528.50" x2="487.89" y2="532.50" stroke="#5a5a5a" stroke-width="1.2" />
<text x="487.89" y="544.30" font-size="11" text-anchor="middle" fill="#111" >200</text>
<line x1="525.43" y1="528.50" x2="525.43" y2="532.50" stroke="#5a5a5a" stroke-width="1.2" />
<text x="525.43" y="544.30" font-size="11" text-anchor="middle" fill="#111" >300</text>
<line x1="562.97" y1="528.50" x2="562.97" y2="532.50" stroke="#5a5a5a" stroke-width="1.2" />
<text x="562.97" y="544.30" font-size="11" text-anchor="middle" fill="#111" >400</text>
<line x1="600.51" y1="528.50" x2="600.51" y2="532.50" stroke="#5a5a5a" stroke-width="1.2" />
<text x="600.51" y="544.30" font-size="11" text-anchor="middle" fill="#111" >500</text>
<line x1="638.06" y1="528.50" x2="638.06" y2="532.50" stroke="#5a5a5a" stroke-width="1.2" />
<text x="638.06" y="544.30" font-size="11" text-anchor="middle" fill="#111" >600</text>
<line x1="675.60" y1="528.50" x2="675.60" y2="532.50" stroke="#5a5a5a" stroke-width="1.2" />
<text x="675.60" y="544.30" font-size="11" text-anchor="middle" fill="#111" >700</text>
<line x1="408.80" y1="528.50" x2="412.80" y2="528.50" stroke="#5a5a5a" stroke-width="1.2" />
<text x="405.50" y="532.40" font-size="11" text-anchor="end" fill="#111" >0</text>
<line x1="408.80" y1="486.38" x2="412.80" y2="486.38" stroke="#5a5a5a" stroke-width="1.2" />
<text x="405.50" y="490.28" font-size="11" text-anchor="end" fill="#111" >2</text>
<line x1="408.80" y1="444.26" x2="412.80" y2="444.26" stroke="#5a5a5a" stroke-width="1.2" />
<text x="405.50" y="448.16" font-size="11" text-anchor="end" fill="#111" >4</text>
<line x1="408.80" y1="402.14" x2="412.80" y2="402.14" stroke="#5a5a5a" stroke-width="1.2" />
<text x="405.50" y="406.04" font-size="11" text-anchor="end" fill="#111" >6</text>
<line x1="408.80" y1="360.02" x2="412.80" y2="360.02" stroke="#5a5a5a" stroke-width="1.2" />
<text x="405.50" y="363.92" font-size="11" text-anchor="end" fill="#111" >8</text>
<line x1="408.80" y1="317.90" x2="412.80" y2="317.90" stroke="#5a5a5a" stroke-width="1.2" />
<text x="405.50" y="321.80" font-size="11" text-anchor="end" fill="#111" >10</text>
<text x="544.20" y="563.80" font-size="13" text-anchor="middle" fill="#111">Boiling point (°C)</text>
<text transform="translate(379.8 417.40) rotate(-90)" font-size="13" text-anchor="middle" fill="#111">Weight fraction (%)</text>
<line x1="422.20" y1="335.10" x2="444.20" y2="335.10" stroke="#7a7a7a" stroke-width="2.7" />
<text x="448.50" y="338.60" font-size="11.85" text-anchor="start" fill="#5e5e5e" font-style="italic" >Feed</text>
<line x1="422.20" y1="349.50" x2="444.20" y2="349.50" stroke="#12a7a7" stroke-width="2.7" />
<text x="448.50" y="353.00" font-size="11.85" text-anchor="start" fill="#1aabab" font-style="italic" >Measured permeated</text>
<line x1="422.20" y1="363.90" x2="444.20" y2="363.90" stroke="#ee0a80" stroke-width="2.7" />
<text x="448.50" y="367.40" font-size="11.85" text-anchor="start" fill="#ee1c8c" font-style="italic" >Predicted permeated</text>
</svg>
</body></html>
